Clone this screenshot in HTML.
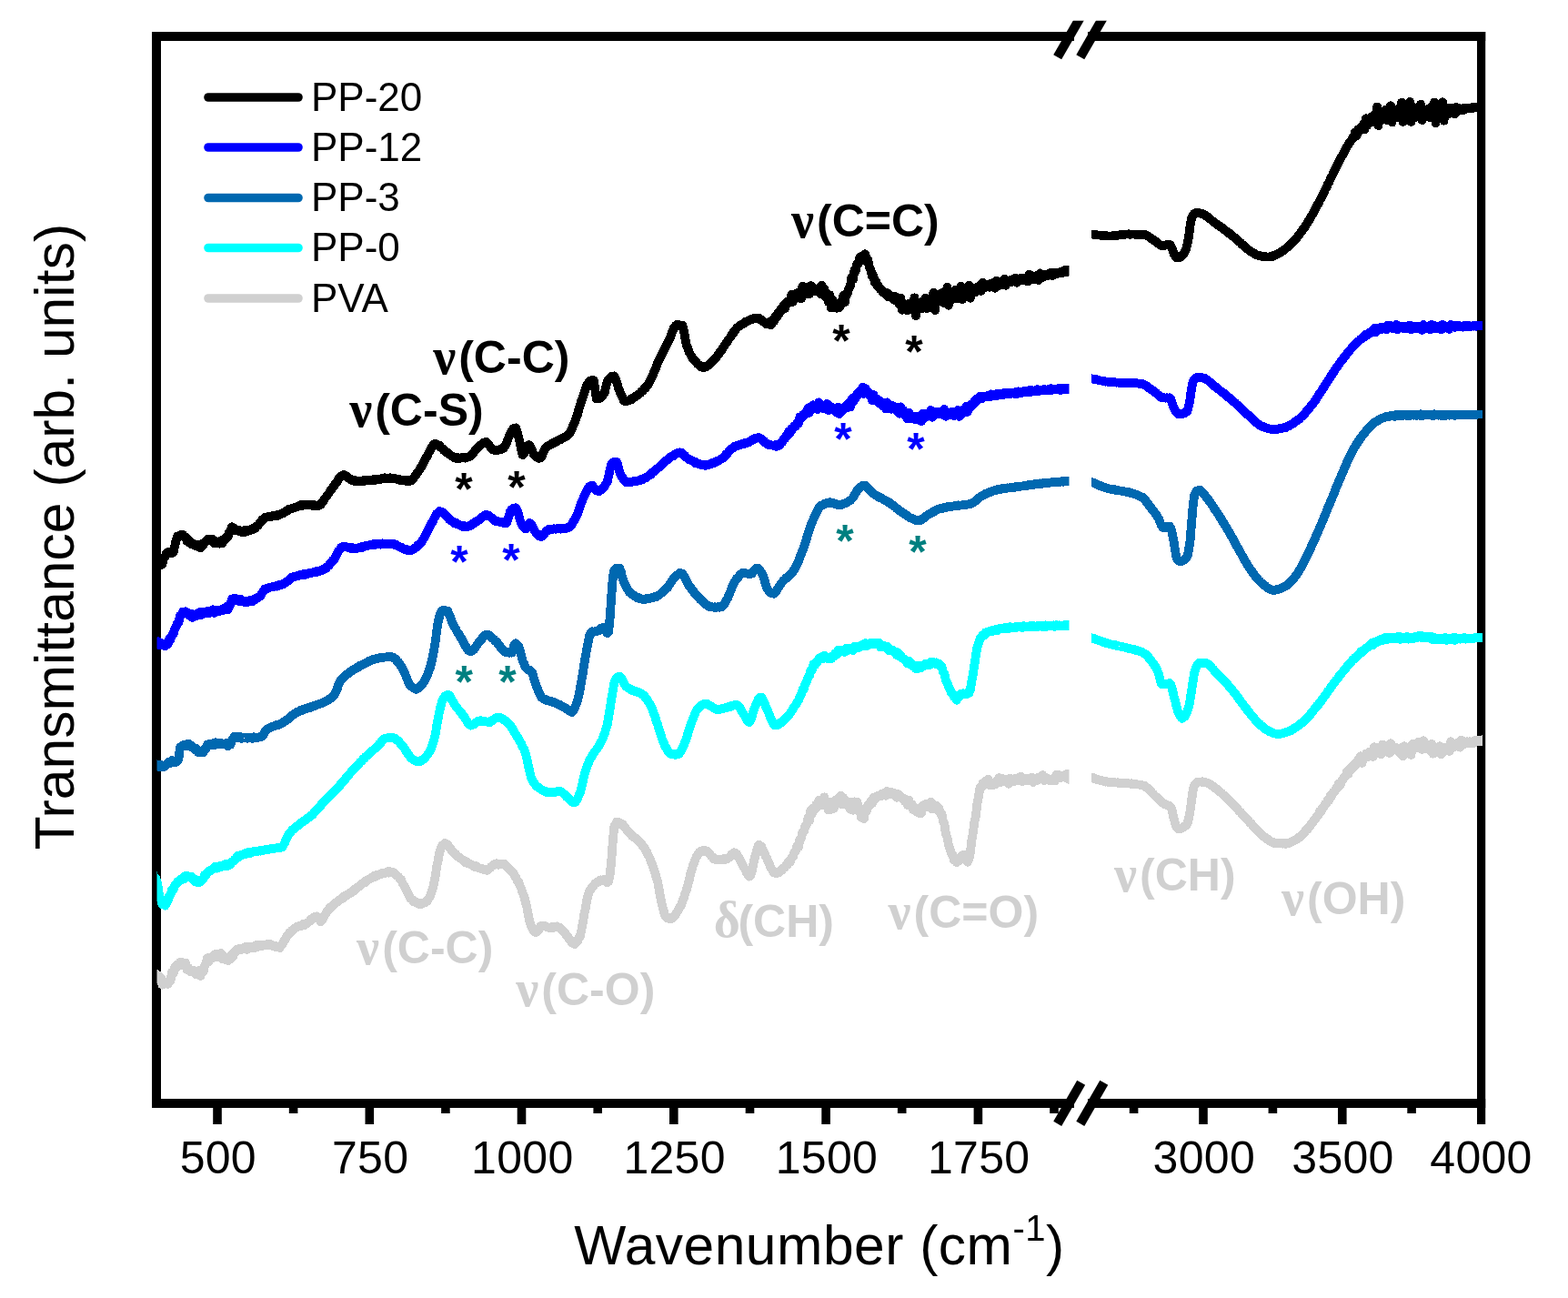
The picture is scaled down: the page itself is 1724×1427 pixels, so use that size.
<!DOCTYPE html>
<html lang="en">
<head>
<meta charset="utf-8">
<title>FTIR spectra</title>
<style>
html,body{margin:0;padding:0;background:#fff;}
body{width:1724px;height:1427px;overflow:hidden;}
svg{display:block;}
text{font-family:"Liberation Sans",sans-serif;fill:#000;}
.tick{font-size:50px;text-anchor:middle;letter-spacing:0.3px;}
.leg{font-size:44px;}
.ann{font-size:50px;font-weight:bold;text-anchor:start;}
.nu{font-family:"Liberation Serif",serif;font-weight:bold;font-size:56px;}
.star{font-size:50px;font-weight:bold;text-anchor:middle;}
.axt{font-size:60.5px;text-anchor:middle;letter-spacing:0.5px;}
.ayt{font-size:60.5px;text-anchor:middle;letter-spacing:0.05px;}
.c{fill:none;stroke-width:9.8;stroke-linejoin:round;stroke-linecap:butt;shape-rendering:crispEdges;}
</style>
</head>
<body>
<svg width="1724" height="1427" viewBox="0 0 1724 1427">
<rect x="0" y="0" width="1724" height="1427" fill="#fff"/>
<g stroke="#000" stroke-width="10" fill="none" stroke-linecap="butt" stroke-linejoin="miter">
<path d="M1181,40 H172 V1213 H1181"/>
<path d="M1196,40 H1633.2"/>
<path d="M1628.6,35 V1236" stroke-width="9.2"/>
<path d="M1196,1213 H1633.2"/>
</g>
<g stroke="#000" stroke-width="9.6">
<path d="M239.0,1213 V1236"/>
<path d="M406.3,1213 V1236"/>
<path d="M573.5,1213 V1236"/>
<path d="M740.8,1213 V1236"/>
<path d="M908.1,1213 V1236"/>
<path d="M1075.4,1213 V1236"/>
<path d="M322.6,1213 V1224"/>
<path d="M489.9,1213 V1224"/>
<path d="M657.2,1213 V1224"/>
<path d="M824.5,1213 V1224"/>
<path d="M991.7,1213 V1224"/>
<path d="M1159.0,1213 V1224"/>
<path d="M1323.0,1213 V1236"/>
<path d="M1475.8,1213 V1236"/>
<path d="M1246.6,1213 V1224"/>
<path d="M1399.4,1213 V1224"/>
<path d="M1552.1,1213 V1224"/>
</g>
<clipPath id="clipL"><rect x="172.5" y="0" width="1003" height="1427"/></clipPath>
<clipPath id="clipR"><rect x="1200" y="0" width="430" height="1427"/></clipPath>
<path class="c" clip-path="url(#clipL)" stroke="#d0d0d0" d="M168.0,1070.0 169.5,1072.3 171.0,1070.4 172.5,1073.1 174.0,1072.3 175.5,1076.9 177.0,1075.2 178.5,1082.7 180.0,1078.7 181.5,1081.7 183.0,1080.3 184.5,1082.0 186.0,1079.7 187.5,1078.3 189.0,1068.7 190.5,1070.6 192.0,1063.6 193.5,1064.4 195.0,1060.2 196.5,1062.0 198.0,1057.9 199.5,1060.0 201.0,1058.2 202.5,1061.1 204.0,1058.6 205.5,1066.0 207.0,1063.8 208.5,1067.7 210.0,1066.3 211.5,1068.7 213.0,1066.8 214.5,1070.7 216.0,1068.6 217.5,1071.3 219.0,1067.0 220.5,1073.0 222.0,1068.6 223.5,1068.5 225.0,1061.7 226.5,1059.7 228.0,1053.2 229.5,1057.4 231.0,1052.6 232.5,1053.7 234.0,1050.9 235.5,1052.7 237.0,1048.8 238.5,1051.9 240.0,1048.8 241.5,1051.2 243.0,1048.0 244.5,1054.5 246.0,1051.3 247.5,1054.8 249.0,1053.0 250.5,1056.1 252.0,1053.7 253.5,1054.4 255.0,1048.9 256.5,1051.1 258.0,1046.1 259.5,1045.8 261.0,1043.5 262.5,1044.6 264.0,1042.5 265.5,1043.9 267.0,1042.5 268.5,1043.6 270.1,1040.6 271.6,1044.0 273.1,1041.0 274.6,1042.6 276.1,1040.6 277.6,1041.9 279.1,1040.5 280.6,1041.9 282.1,1039.1 283.6,1040.8 285.1,1039.2 286.6,1040.1 288.1,1038.7 289.6,1039.6 291.1,1038.6 292.6,1039.3 294.1,1038.2 295.6,1039.6 297.1,1038.0 298.6,1039.6 300.1,1039.2 301.6,1040.6 303.1,1040.2 304.6,1041.4 306.1,1040.9 307.6,1042.1 309.1,1039.5 310.6,1038.4 312.1,1034.9 313.6,1032.7 315.1,1029.4 316.6,1028.4 318.1,1025.4 319.6,1025.6 321.1,1022.7 322.6,1022.0 324.1,1020.4 325.6,1019.9 327.1,1018.5 328.6,1018.6 330.1,1017.6 331.6,1017.8 333.1,1016.1 334.6,1017.0 336.1,1015.2 337.6,1015.2 339.1,1013.7 340.6,1012.8 342.1,1010.1 343.6,1010.3 345.1,1008.1 346.6,1007.8 348.1,1007.4 349.6,1009.6 351.1,1010.8 352.6,1013.2 354.1,1011.2 355.6,1009.4 357.1,1006.1 358.6,1003.8 360.1,1000.9 361.6,999.8 363.1,997.1 364.6,997.3 366.1,995.0 367.6,994.3 369.1,992.2 370.6,991.6 372.1,989.9 373.6,989.6 375.1,987.8 376.6,987.8 378.1,985.3 379.6,985.5 381.1,984.0 382.6,983.6 384.1,981.8 385.6,981.7 387.1,979.8 388.6,979.9 390.1,977.3 391.6,977.1 393.1,975.3 394.6,974.8 396.1,973.1 397.6,972.5 399.1,970.7 400.6,970.7 402.1,968.2 403.6,968.3 405.1,966.9 406.6,966.6 408.1,965.0 409.6,965.0 411.1,963.1 412.6,963.8 414.1,962.0 415.6,962.3 417.1,961.2 418.6,961.3 420.1,960.1 421.6,960.3 423.1,959.5 424.6,959.7 426.1,958.3 427.6,959.5 429.1,958.3 430.6,959.1 432.1,958.8 433.6,960.5 435.1,961.1 436.6,962.8 438.1,963.9 439.6,966.1 441.1,966.9 442.6,971.1 444.1,973.2 445.6,976.6 447.1,979.1 448.6,982.5 450.1,984.7 451.6,987.9 453.1,989.0 454.6,991.3 456.1,990.8 457.6,992.7 459.1,992.9 460.6,993.9 462.1,993.3 463.6,993.9 465.1,992.8 466.6,992.7 468.1,990.8 469.6,991.0 471.1,988.2 472.7,986.0 474.2,981.3 475.7,977.2 477.2,970.9 478.7,963.5 480.2,952.8 481.7,945.9 483.2,937.4 484.7,932.3 486.2,929.6 487.7,928.6 489.2,926.9 490.7,928.4 492.2,928.6 493.7,931.1 495.2,932.8 496.7,935.7 498.2,936.5 499.7,938.5 501.2,938.9 502.7,941.5 504.2,942.0 505.7,943.6 507.2,944.1 508.7,945.8 510.2,945.9 511.7,948.0 513.2,947.3 514.7,949.3 516.2,949.4 517.7,950.8 519.2,950.9 520.7,952.5 522.2,951.7 523.7,953.2 525.2,953.2 526.7,954.3 528.2,954.6 529.7,955.5 531.2,955.3 532.7,956.4 534.2,955.5 535.7,956.8 537.2,955.3 538.7,954.5 540.2,952.6 541.7,951.9 543.2,950.1 544.7,950.2 546.2,949.3 547.7,950.7 549.2,949.8 550.7,950.2 552.2,949.7 553.7,950.3 555.2,950.1 556.7,952.6 558.2,953.1 559.7,955.2 561.2,956.3 562.7,958.5 564.2,959.7 565.7,962.6 567.2,964.6 568.7,968.2 570.2,969.7 571.7,973.9 573.2,976.9 574.7,981.8 576.2,985.4 577.7,991.4 579.2,996.5 580.7,1005.4 582.2,1012.2 583.7,1017.6 585.2,1020.3 586.7,1023.5 588.2,1024.7 589.7,1024.9 591.2,1022.8 592.7,1021.7 594.2,1018.2 595.7,1018.0 597.2,1017.4 598.7,1018.1 600.2,1018.4 601.7,1019.6 603.2,1019.4 604.7,1020.2 606.2,1019.3 607.7,1020.2 609.2,1018.9 610.7,1019.3 612.2,1018.4 613.7,1019.2 615.2,1019.5 616.7,1021.8 618.2,1022.0 619.7,1024.7 621.2,1025.7 622.7,1028.1 624.2,1029.3 625.7,1032.5 627.2,1033.5 628.7,1036.3 630.2,1037.0 631.7,1037.9 633.2,1036.2 634.7,1035.5 636.2,1031.7 637.7,1029.7 639.2,1023.2 640.7,1015.3 642.2,1006.0 643.7,998.8 645.2,989.5 646.7,984.1 648.2,979.4 649.7,977.5 651.2,974.8 652.7,973.5 654.2,971.5 655.7,970.9 657.2,969.4 658.7,969.3 660.2,967.4 661.7,967.9 663.2,967.2 664.7,968.5 666.2,968.8 667.7,970.2 669.2,969.1 670.7,960.8 672.2,947.1 673.8,924.4 675.3,908.7 676.8,905.9 678.3,903.5 679.8,904.2 681.3,904.2 682.8,906.2 684.3,906.0 685.8,908.3 687.3,909.5 688.8,912.0 690.3,913.5 691.8,915.6 693.3,916.3 694.8,919.1 696.3,919.3 697.8,921.2 699.3,921.8 700.8,923.5 702.3,924.3 703.8,926.4 705.3,927.6 706.8,930.2 708.3,931.4 709.8,935.1 711.3,936.9 712.8,940.4 714.3,943.0 715.8,947.1 717.3,950.4 718.8,955.1 720.3,959.4 721.8,965.5 723.3,970.1 724.8,978.9 726.3,986.6 727.8,994.0 729.3,999.8 730.8,1005.8 732.3,1008.4 733.8,1009.5 735.3,1009.2 736.8,1010.5 738.3,1009.6 739.8,1009.3 741.3,1007.2 742.8,1005.8 744.3,1002.8 745.8,1000.7 747.3,997.3 748.8,995.6 750.3,991.1 751.8,987.4 753.3,982.5 754.8,978.3 756.3,972.9 757.8,967.5 759.3,960.5 760.8,955.9 762.3,950.3 763.8,946.9 765.3,942.7 766.8,940.2 768.3,937.5 769.8,937.1 771.3,935.4 772.8,936.0 774.3,934.7 775.8,935.5 777.3,935.6 778.8,937.4 780.3,938.5 781.8,941.0 783.3,942.2 784.8,944.5 786.3,944.1 787.8,945.3 789.3,944.6 790.8,945.2 792.3,944.5 793.8,944.8 795.3,944.2 796.8,944.9 798.3,943.5 799.8,944.0 801.3,942.8 802.8,941.9 804.3,939.4 805.8,938.4 807.3,937.3 808.8,938.1 810.3,938.9 811.8,942.4 813.3,944.4 814.8,947.8 816.3,950.2 817.8,953.4 819.3,955.6 820.8,959.4 822.3,961.7 823.8,963.7 825.3,962.3 826.8,958.0 828.3,949.6 829.8,943.2 831.3,937.7 832.8,932.7 834.3,928.6 835.8,929.7 837.3,930.9 838.8,934.4 840.3,937.5 841.8,941.3 843.3,943.8 844.8,947.7 846.3,950.6 847.8,954.8 849.3,956.6 850.8,959.4 852.3,959.8 853.8,960.0 855.3,959.0 856.8,959.1 858.3,956.9 859.8,956.5 861.3,954.5 862.8,953.6 864.3,951.4 865.8,951.0 867.3,946.6 868.8,947.6 870.3,942.6 871.8,942.2 873.3,937.4 874.8,936.0 876.4,929.7 877.9,931.4 879.4,922.8 880.9,921.5 882.4,914.5 883.9,914.1 885.4,907.6 886.9,906.9 888.4,899.3 889.9,902.5 891.4,890.6 892.9,894.6 894.4,888.1 895.9,889.7 897.4,884.4 898.9,887.2 900.4,879.5 901.9,884.5 903.4,879.0 904.9,885.4 906.4,876.3 907.9,885.0 909.4,882.9 910.9,890.5 912.4,886.1 913.9,889.8 915.4,881.3 916.9,888.9 918.4,879.8 919.9,883.7 921.4,877.7 922.9,881.4 924.4,874.5 925.9,884.3 927.4,877.1 928.9,882.9 930.4,880.4 931.9,886.0 933.4,884.0 934.9,889.7 936.4,881.5 937.9,890.8 939.4,881.3 940.9,884.8 942.4,881.5 943.9,887.0 945.4,890.3 946.9,898.8 948.4,891.1 949.9,900.0 951.4,890.3 952.9,891.4 954.4,884.8 955.9,885.5 957.4,881.3 958.9,883.3 960.4,876.8 961.9,878.8 963.4,875.4 964.9,876.3 966.4,874.4 967.9,875.5 969.4,872.6 970.9,873.7 972.4,871.9 973.9,874.8 975.4,869.9 976.9,873.2 978.4,871.1 979.9,873.4 981.4,871.3 982.9,873.8 984.4,872.4 985.9,876.7 987.4,872.9 988.9,876.5 990.4,875.3 991.9,877.9 993.4,877.3 994.9,881.3 996.4,879.1 997.9,885.2 999.4,879.7 1000.9,885.8 1002.4,884.1 1003.9,890.1 1005.4,887.8 1006.9,891.9 1008.4,890.0 1009.9,893.8 1011.4,888.3 1012.9,894.1 1014.4,885.5 1015.9,887.9 1017.4,884.1 1018.9,887.2 1020.4,883.9 1021.9,886.3 1023.4,881.6 1024.9,889.5 1026.4,884.6 1027.9,888.2 1029.4,885.8 1030.9,890.7 1032.4,888.6 1033.9,894.3 1035.4,894.6 1036.9,902.7 1038.4,905.4 1039.9,917.0 1041.4,920.4 1042.9,928.6 1044.4,932.6 1045.9,937.9 1047.4,939.9 1048.9,945.7 1050.4,944.3 1051.9,948.2 1053.4,946.3 1054.9,946.1 1056.4,941.6 1057.9,940.9 1059.4,939.4 1060.9,942.9 1062.4,942.3 1063.9,947.7 1065.4,944.5 1066.9,937.2 1068.4,923.8 1069.9,915.2 1071.4,903.7 1072.9,896.8 1074.4,883.6 1075.9,875.6 1077.4,866.3 1079.0,866.0 1080.5,861.0 1082.0,861.7 1083.5,858.4 1085.0,860.3 1086.5,856.6 1088.0,863.3 1089.5,860.3 1091.0,863.5 1092.5,861.2 1094.0,862.7 1095.5,858.7 1097.0,859.7 1098.5,855.0 1100.0,860.1 1101.5,855.9 1103.0,858.9 1104.5,856.5 1106.0,859.4 1107.5,857.0 1109.0,861.7 1110.5,855.7 1112.0,859.7 1113.5,857.4 1115.0,859.3 1116.5,855.7 1118.0,857.6 1119.5,855.3 1121.0,858.0 1122.5,853.7 1124.0,859.2 1125.5,855.6 1127.0,857.9 1128.5,855.5 1130.0,858.5 1131.5,856.0 1133.0,858.4 1134.5,854.7 1136.0,860.0 1137.5,855.8 1139.0,858.3 1140.5,855.1 1142.0,857.3 1143.5,854.1 1145.0,856.4 1146.5,852.2 1148.0,858.0 1149.5,854.6 1151.0,857.0 1152.5,856.2 1154.0,858.2 1155.5,856.9 1157.0,858.5 1158.5,855.7 1160.0,858.6 1161.5,851.7 1163.0,855.2 1164.5,852.1 1166.0,854.9 1167.5,852.7 1169.0,854.5 1170.5,852.1 1172.0,855.3 1173.5,850.9 1175.0,856.8 1176.5,852.8 1178.0,855.0 1179.5,853.8"/>
<path class="c" clip-path="url(#clipR)" stroke="#d0d0d0" d="M1196.0,854.0 1197.5,854.5 1199.0,854.6 1200.5,855.4 1202.0,855.1 1203.5,856.3 1205.0,856.3 1206.5,857.1 1208.0,857.2 1209.5,857.8 1211.0,857.9 1212.5,858.7 1214.0,858.7 1215.5,859.7 1217.0,859.2 1218.5,859.9 1220.0,859.9 1221.5,860.4 1223.0,860.1 1224.5,860.4 1226.0,860.2 1227.5,860.6 1229.0,860.3 1230.5,861.1 1232.0,860.5 1233.5,860.9 1235.0,860.7 1236.5,861.2 1238.0,860.9 1239.5,861.4 1241.0,861.2 1242.5,861.7 1244.0,861.2 1245.5,862.2 1247.0,861.7 1248.5,862.2 1250.0,862.2 1251.5,862.6 1253.0,862.5 1254.5,863.2 1256.0,863.2 1257.5,863.9 1259.0,863.9 1260.5,865.7 1262.0,866.5 1263.5,868.3 1265.0,869.6 1266.5,871.6 1268.0,872.8 1269.5,874.6 1271.0,875.8 1272.5,877.5 1274.0,878.4 1275.5,880.5 1277.0,881.3 1278.5,882.9 1280.0,883.7 1281.5,884.7 1283.0,884.9 1284.5,885.9 1286.0,886.0 1287.5,887.7 1289.0,892.1 1290.5,899.8 1292.0,904.7 1293.5,909.3 1295.0,911.0 1296.5,911.2 1298.0,910.7 1299.5,910.7 1301.0,909.1 1302.5,908.6 1304.0,907.1 1305.5,905.6 1307.0,899.4 1308.5,891.6 1310.0,880.9 1311.5,869.6 1313.0,863.7 1314.5,862.0 1316.0,859.9 1317.5,859.6 1319.0,859.4 1320.5,859.7 1322.0,859.3 1323.5,860.2 1325.0,859.8 1326.5,860.4 1328.0,860.8 1329.5,861.8 1331.0,862.4 1332.5,863.8 1334.0,864.6 1335.5,866.1 1337.0,866.7 1338.5,868.6 1340.0,869.2 1341.5,870.9 1343.0,871.9 1344.5,873.6 1346.0,874.6 1347.5,876.5 1349.0,877.6 1350.5,879.4 1352.0,880.4 1353.5,882.6 1355.0,883.6 1356.5,885.4 1358.0,886.7 1359.5,888.5 1361.0,889.8 1362.5,891.7 1364.0,892.8 1365.5,895.2 1367.0,896.3 1368.5,898.3 1370.0,899.5 1371.5,901.4 1373.0,902.8 1374.5,904.7 1376.0,905.7 1377.5,908.0 1379.0,909.1 1380.5,911.1 1382.0,912.4 1383.5,914.3 1385.0,915.5 1386.5,917.3 1388.0,918.0 1389.5,920.0 1391.0,920.5 1392.5,922.1 1394.0,922.7 1395.5,924.1 1397.0,924.8 1398.5,925.9 1400.0,926.1 1401.5,927.2 1403.0,926.9 1404.5,927.4 1406.0,927.2 1407.5,927.5 1409.0,927.3 1410.5,927.7 1412.0,927.1 1413.5,927.9 1415.0,927.2 1416.5,927.1 1418.0,926.2 1419.5,925.9 1421.0,924.9 1422.5,924.4 1424.0,923.3 1425.5,922.8 1427.0,921.1 1428.5,920.8 1430.0,919.2 1431.5,918.2 1433.0,916.2 1434.5,915.0 1436.0,912.4 1437.5,912.0 1439.0,909.1 1440.5,908.0 1442.0,905.3 1443.5,904.1 1445.0,901.3 1446.5,900.2 1448.0,897.1 1449.5,896.3 1451.0,891.9 1452.5,892.5 1454.0,888.0 1455.5,887.3 1457.0,883.8 1458.5,883.0 1460.0,879.2 1461.5,879.5 1463.0,874.3 1464.5,874.6 1466.0,870.7 1467.5,870.5 1469.0,866.6 1470.5,866.3 1472.0,861.3 1473.5,863.1 1475.0,858.5 1476.5,857.4 1478.0,854.2 1479.5,853.5 1481.0,848.1 1482.5,851.0 1484.0,844.9 1485.5,846.0 1487.0,842.3 1488.5,843.4 1490.0,839.0 1491.5,840.2 1493.0,835.4 1494.5,838.2 1496.0,831.2 1497.5,839.0 1499.0,832.0 1500.5,833.4 1502.0,828.4 1503.5,832.4 1505.0,826.9 1506.5,829.7 1508.0,826.4 1509.5,831.9 1511.0,821.2 1512.5,827.2 1514.0,822.6 1515.5,827.9 1517.0,821.7 1518.5,829.2 1520.0,818.6 1521.5,825.4 1523.0,820.4 1524.5,824.6 1526.0,820.3 1527.5,827.8 1529.0,817.2 1530.5,825.4 1532.0,821.5 1533.5,824.2 1535.0,821.8 1536.5,825.1 1538.0,822.8 1539.5,828.1 1541.0,821.8 1542.5,831.2 1544.0,820.2 1545.5,827.7 1547.0,824.9 1548.5,828.2 1550.0,823.4 1551.5,829.8 1553.0,818.0 1554.5,823.7 1556.0,819.1 1557.5,821.9 1559.0,816.1 1560.5,820.8 1562.0,817.6 1563.5,824.0 1565.0,814.3 1566.5,822.6 1568.0,818.3 1569.5,823.7 1571.0,820.6 1572.5,825.4 1574.0,818.0 1575.5,828.7 1577.0,821.5 1578.5,826.5 1580.0,822.2 1581.5,827.0 1583.0,820.3 1584.5,829.6 1586.0,822.2 1587.5,826.7 1589.0,821.9 1590.5,824.0 1592.0,820.9 1593.5,826.0 1595.0,815.3 1596.5,822.5 1598.0,817.8 1599.5,820.8 1601.0,817.3 1602.5,820.6 1604.0,815.9 1605.5,821.7 1607.0,813.6 1608.5,818.9 1610.0,815.4 1611.5,817.4 1613.0,815.2 1614.5,816.7 1616.0,815.4 1617.5,816.9 1619.0,815.1 1620.5,817.0 1622.0,813.7 1623.5,815.4 1625.0,814.1 1626.5,814.9 1628.0,813.8 1629.5,814.9 1631.0,813.1 1632.5,814.0 1634.0,813.4"/>
<path class="c" clip-path="url(#clipL)" stroke="#00ffff" d="M168.0,960.0 169.5,963.8 171.0,965.1 172.5,969.4 174.0,976.8 175.5,987.2 177.0,988.9 178.5,994.2 180.0,994.0 181.5,995.7 183.0,992.8 184.5,990.4 186.0,985.4 187.5,983.3 189.0,978.3 190.5,978.1 192.0,973.6 193.5,972.4 195.0,969.6 196.5,969.6 198.0,967.1 199.5,967.4 201.0,965.0 202.5,966.4 204.0,962.8 205.5,964.6 207.0,963.3 208.5,964.2 210.0,963.7 211.5,966.2 213.0,965.9 214.5,969.5 216.0,967.7 217.5,970.4 219.0,969.5 220.5,969.7 222.0,966.8 223.5,966.1 225.0,961.7 226.5,962.4 228.0,958.9 229.5,958.7 231.0,956.8 232.5,956.7 234.0,955.0 235.5,955.0 237.0,952.6 238.5,954.7 240.0,952.5 241.5,953.4 243.0,951.5 244.5,952.6 246.0,950.9 247.5,951.9 249.0,949.6 250.5,952.0 252.0,949.7 253.5,950.2 255.0,947.6 256.5,947.1 258.0,944.8 259.5,944.1 261.0,941.1 262.5,942.4 264.0,940.2 265.5,940.2 267.0,939.2 268.5,939.3 270.1,938.1 271.6,938.6 273.1,937.0 274.6,938.2 276.1,936.7 277.6,937.0 279.1,936.1 280.6,936.5 282.1,935.6 283.6,935.8 285.1,935.2 286.6,935.6 288.1,934.4 289.6,934.8 291.1,934.3 292.6,934.4 294.1,933.8 295.6,933.9 297.1,933.3 298.6,933.6 300.1,932.6 301.6,932.9 303.1,932.4 304.6,932.6 306.1,932.0 307.6,932.0 309.1,931.4 310.6,931.3 312.1,928.3 313.6,925.6 315.1,921.5 316.6,918.7 318.1,916.1 319.6,915.0 321.1,912.6 322.6,911.8 324.1,910.2 325.6,909.3 327.1,907.7 328.6,907.0 330.1,905.1 331.6,904.5 333.1,903.1 334.6,902.5 336.1,901.0 337.6,900.3 339.1,898.8 340.6,898.0 342.1,896.2 343.6,895.7 345.1,893.6 346.6,892.4 348.1,890.3 349.6,889.0 351.1,887.0 352.6,885.6 354.1,883.5 355.6,882.2 357.1,880.1 358.6,879.3 360.1,877.3 361.6,876.0 363.1,874.4 364.6,873.2 366.1,871.3 367.6,870.2 369.1,868.1 370.6,867.2 372.1,865.0 373.6,863.6 375.1,861.5 376.6,860.0 378.1,858.0 379.6,856.7 381.1,854.1 382.6,852.9 384.1,850.9 385.6,849.4 387.1,847.5 388.6,846.3 390.1,844.0 391.6,842.9 393.1,840.9 394.6,839.7 396.1,837.8 397.6,836.8 399.1,834.5 400.6,833.6 402.1,831.8 403.6,830.7 405.1,829.1 406.6,828.3 408.1,826.2 409.6,825.4 411.1,823.9 412.6,822.8 414.1,821.2 415.6,820.3 417.1,817.8 418.6,816.6 420.1,814.4 421.6,813.2 423.1,811.7 424.6,811.5 426.1,811.2 427.6,811.6 429.1,810.8 430.6,811.4 432.1,811.2 433.6,811.5 435.1,812.0 436.6,813.8 438.1,814.6 439.6,816.8 441.1,818.4 442.6,820.3 444.1,821.9 445.6,824.5 447.1,826.6 448.6,829.3 450.1,830.9 451.6,833.4 453.1,834.1 454.6,835.4 456.1,836.1 457.6,837.1 459.1,837.2 460.6,837.6 462.1,836.9 463.6,836.3 465.1,834.7 466.6,834.1 468.1,831.9 469.6,830.5 471.1,828.2 472.7,825.8 474.2,822.2 475.7,818.5 477.2,813.6 478.7,807.5 480.2,798.0 481.7,789.6 483.2,782.0 484.7,775.9 486.2,770.2 487.7,767.4 489.2,765.5 490.7,764.5 492.2,763.7 493.7,764.4 495.2,765.8 496.7,769.2 498.2,771.7 499.7,774.6 501.2,776.5 502.7,778.6 504.2,780.2 505.7,782.4 507.2,783.8 508.7,786.2 510.2,787.3 511.7,790.2 513.2,792.5 514.7,795.4 516.2,796.8 517.7,797.6 519.2,796.7 520.7,796.7 522.2,795.0 523.7,794.3 525.2,793.0 526.7,792.7 528.2,792.2 529.7,793.1 531.2,792.7 532.7,793.3 534.2,793.3 535.7,793.7 537.2,793.6 538.7,794.0 540.2,792.5 541.7,792.1 543.2,790.6 544.7,789.9 546.2,788.8 547.7,788.9 549.2,788.6 550.7,789.8 552.2,789.9 553.7,791.3 555.2,791.9 556.7,793.3 558.2,794.2 559.7,796.0 561.2,797.6 562.7,800.3 564.2,802.1 565.7,805.4 567.2,807.4 568.7,810.1 570.2,812.3 571.7,815.2 573.2,817.7 574.7,821.2 576.2,823.8 577.7,828.2 579.2,833.5 580.7,840.9 582.2,847.7 583.7,854.1 585.2,857.7 586.7,860.5 588.2,862.1 589.7,864.4 591.2,865.0 592.7,866.5 594.2,867.2 595.7,868.3 597.2,868.9 598.7,869.9 600.2,870.0 601.7,871.2 603.2,870.9 604.7,871.4 606.2,871.1 607.7,871.1 609.2,870.7 610.7,870.7 612.2,870.1 613.7,870.4 615.2,869.6 616.7,870.6 618.2,871.2 619.7,872.7 621.2,873.8 622.7,875.9 624.2,876.5 625.7,878.3 627.2,879.5 628.7,881.3 630.2,882.1 631.7,882.5 633.2,881.0 634.7,879.0 636.2,875.0 637.7,872.2 639.2,866.6 640.7,860.1 642.2,853.0 643.7,847.7 645.2,843.1 646.7,839.8 648.2,835.7 649.7,833.2 651.2,830.1 652.7,828.2 654.2,825.9 655.7,824.3 657.2,822.0 658.7,819.9 660.2,816.7 661.7,814.3 663.2,810.4 664.7,806.7 666.2,801.8 667.7,796.6 669.2,788.2 670.7,779.0 672.2,768.8 673.8,759.8 675.3,750.5 676.8,746.9 678.3,745.0 679.8,744.3 681.3,743.6 682.8,745.3 684.3,747.4 685.8,751.1 687.3,753.4 688.8,755.1 690.3,755.9 691.8,757.1 693.3,757.7 694.8,759.0 696.3,759.0 697.8,760.0 699.3,760.1 700.8,760.9 702.3,761.1 703.8,762.0 705.3,762.4 706.8,764.0 708.3,764.8 709.8,767.4 711.3,768.9 712.8,771.4 714.3,773.6 715.8,776.7 717.3,779.8 718.8,784.5 720.3,788.1 721.8,793.1 723.3,797.2 724.8,802.3 726.3,806.9 727.8,812.0 729.3,815.5 730.8,819.5 732.3,822.0 733.8,825.0 735.3,826.9 736.8,828.6 738.3,828.8 739.8,829.3 741.3,829.1 742.8,829.8 744.3,829.1 745.8,829.5 747.3,827.7 748.8,825.5 750.3,822.2 751.8,819.2 753.3,815.3 754.8,811.8 756.3,806.4 757.8,801.6 759.3,796.7 760.8,793.1 762.3,789.0 763.8,785.8 765.3,781.7 766.8,779.7 768.3,777.8 769.8,776.7 771.3,775.1 772.8,774.5 774.3,773.7 775.8,774.2 777.3,773.8 778.8,774.9 780.3,775.3 781.8,776.6 783.3,777.3 784.8,778.5 786.3,778.9 787.8,779.8 789.3,779.8 790.8,780.4 792.3,779.4 793.8,779.5 795.3,778.9 796.8,778.6 798.3,777.8 799.8,777.7 801.3,776.9 802.8,777.1 804.3,775.8 805.8,775.8 807.3,775.1 808.8,775.2 810.3,774.9 811.8,776.4 813.3,777.6 814.8,780.8 816.3,783.1 817.8,785.6 819.3,787.8 820.8,791.0 822.3,792.5 823.8,794.2 825.3,791.7 826.8,787.6 828.3,782.2 829.8,778.0 831.3,774.3 832.8,771.0 834.3,767.6 835.8,766.7 837.3,766.7 838.8,769.3 840.3,772.4 841.8,776.3 843.3,779.1 844.8,783.0 846.3,786.7 847.8,790.8 849.3,793.7 850.8,796.8 852.3,797.3 853.8,797.4 855.3,796.6 856.8,796.0 858.3,794.4 859.8,794.0 861.3,792.1 862.8,791.0 864.3,789.2 865.8,788.1 867.3,785.9 868.8,784.2 870.3,781.8 871.8,779.8 873.3,776.6 874.8,775.3 876.4,771.8 877.9,769.9 879.4,765.8 880.9,763.7 882.4,758.2 883.9,757.4 885.4,751.9 886.9,749.8 888.4,744.5 889.9,743.0 891.4,737.1 892.9,736.8 894.4,730.2 895.9,731.3 897.4,727.6 898.9,727.5 900.4,723.7 901.9,724.4 903.4,722.3 904.9,724.4 906.4,720.6 907.9,723.6 909.4,722.4 910.9,724.5 912.4,722.8 913.9,724.4 915.4,721.4 916.9,721.6 918.4,718.3 919.9,719.7 921.4,714.7 922.9,717.2 924.4,715.3 925.9,716.3 927.4,714.3 928.9,716.9 930.4,712.8 931.9,715.2 933.4,713.2 934.9,714.4 936.4,712.9 937.9,715.0 939.4,710.6 940.9,712.6 942.4,710.9 943.9,712.2 945.4,710.1 946.9,710.7 948.4,708.9 949.9,710.4 951.4,707.0 952.9,710.4 954.4,707.6 955.9,708.5 957.4,707.0 958.9,708.1 960.4,706.8 961.9,708.6 963.4,706.8 964.9,708.9 966.4,706.8 967.9,711.4 969.4,709.4 970.9,711.4 972.4,710.2 973.9,712.2 975.4,710.6 976.9,715.0 978.4,713.4 979.9,715.5 981.4,715.0 982.9,716.9 984.4,716.3 985.9,720.1 987.4,717.4 988.9,721.4 990.4,720.8 991.9,723.5 993.4,724.0 994.9,726.1 996.4,726.1 997.9,729.5 999.4,726.8 1000.9,730.4 1002.4,729.7 1003.9,732.7 1005.4,731.6 1006.9,735.0 1008.4,731.9 1009.9,734.8 1011.4,733.0 1012.9,734.2 1014.4,731.5 1015.9,732.1 1017.4,729.9 1018.9,731.3 1020.4,729.5 1021.9,731.4 1023.4,727.5 1024.9,729.4 1026.4,728.1 1027.9,729.8 1029.4,728.4 1030.9,730.0 1032.4,729.6 1033.9,732.2 1035.4,732.5 1036.9,738.8 1038.4,740.8 1039.9,748.2 1041.4,750.4 1042.9,755.3 1044.4,757.6 1045.9,761.5 1047.4,762.5 1048.9,766.2 1050.4,766.9 1051.9,769.7 1053.4,767.1 1054.9,766.2 1056.4,762.8 1057.9,762.9 1059.4,762.3 1060.9,762.7 1062.4,762.3 1063.9,762.9 1065.4,762.0 1066.9,758.2 1068.4,748.2 1069.9,740.8 1071.4,730.9 1072.9,721.1 1074.4,711.7 1075.9,707.4 1077.4,702.4 1079.0,700.4 1080.5,698.2 1082.0,698.3 1083.5,695.4 1085.0,696.0 1086.5,694.4 1088.0,694.6 1089.5,693.4 1091.0,693.9 1092.5,692.6 1094.0,692.9 1095.5,691.4 1097.0,693.0 1098.5,691.1 1100.0,691.6 1101.5,690.8 1103.0,691.3 1104.5,690.1 1106.0,690.7 1107.5,689.7 1109.0,691.1 1110.5,689.0 1112.0,690.3 1113.5,689.5 1115.0,690.0 1116.5,689.0 1118.0,689.8 1119.5,689.1 1121.0,689.6 1122.5,688.8 1124.0,690.2 1125.5,688.2 1127.0,689.3 1128.5,688.5 1130.0,689.5 1131.5,688.4 1133.0,689.2 1134.5,687.7 1136.0,689.6 1137.5,688.4 1139.0,689.0 1140.5,688.0 1142.0,688.8 1143.5,688.2 1145.0,688.8 1146.5,687.8 1148.0,689.2 1149.5,687.3 1151.0,688.7 1152.5,687.9 1154.0,688.5 1155.5,687.9 1157.0,688.4 1158.5,687.5 1160.0,688.9 1161.5,687.0 1163.0,688.3 1164.5,687.4 1166.0,688.1 1167.5,687.5 1169.0,688.0 1170.5,687.2 1172.0,688.5 1173.5,686.6 1175.0,688.0 1176.5,687.1 1178.0,687.6 1179.5,687.4"/>
<path class="c" clip-path="url(#clipR)" stroke="#00ffff" d="M1196.0,699.9 1197.5,700.5 1199.0,700.8 1200.5,701.6 1202.0,701.6 1203.5,702.7 1205.0,702.9 1206.5,703.7 1208.0,704.0 1209.5,704.7 1211.0,705.0 1212.5,705.8 1214.0,705.9 1215.5,707.0 1217.0,707.0 1218.5,707.7 1220.0,707.9 1221.5,708.5 1223.0,708.6 1224.5,709.4 1226.0,709.1 1227.5,709.8 1229.0,710.0 1230.5,710.5 1232.0,710.5 1233.5,711.1 1235.0,711.2 1236.5,711.7 1238.0,711.7 1239.5,712.7 1241.0,712.7 1242.5,713.3 1244.0,713.4 1245.5,713.9 1247.0,714.0 1248.5,714.9 1250.0,714.9 1251.5,715.7 1253.0,715.9 1254.5,716.7 1256.0,717.1 1257.5,718.1 1259.0,718.8 1260.5,720.3 1262.0,721.4 1263.5,723.8 1265.0,725.2 1266.5,727.5 1268.0,729.4 1269.5,731.8 1271.0,734.0 1272.5,737.5 1274.0,740.6 1275.5,746.9 1277.0,751.9 1278.5,752.6 1280.0,752.1 1281.5,752.1 1283.0,751.5 1284.5,751.5 1286.0,750.9 1287.5,753.3 1289.0,758.2 1290.5,764.8 1292.0,770.1 1293.5,776.4 1295.0,781.7 1296.5,785.5 1298.0,787.7 1299.5,789.7 1301.0,788.9 1302.5,787.8 1304.0,784.9 1305.5,782.0 1307.0,777.2 1308.5,769.5 1310.0,759.7 1311.5,750.1 1313.0,740.4 1314.5,735.6 1316.0,731.7 1317.5,729.6 1319.0,728.4 1320.5,729.1 1322.0,728.7 1323.5,728.8 1325.0,728.6 1326.5,729.2 1328.0,729.8 1329.5,731.2 1331.0,732.2 1332.5,734.6 1334.0,735.9 1335.5,737.9 1337.0,739.4 1338.5,741.1 1340.0,742.3 1341.5,744.2 1343.0,745.3 1344.5,747.4 1346.0,748.3 1347.5,750.3 1349.0,751.7 1350.5,753.6 1352.0,755.2 1353.5,757.1 1355.0,758.6 1356.5,760.9 1358.0,762.1 1359.5,764.6 1361.0,766.5 1362.5,768.8 1364.0,770.6 1365.5,773.0 1367.0,774.6 1368.5,777.1 1370.0,778.4 1371.5,780.8 1373.0,782.5 1374.5,784.6 1376.0,786.3 1377.5,788.4 1379.0,789.8 1380.5,791.8 1382.0,793.0 1383.5,795.1 1385.0,795.8 1386.5,797.7 1388.0,798.7 1389.5,800.3 1391.0,801.2 1392.5,802.5 1394.0,802.9 1395.5,804.3 1397.0,804.5 1398.5,805.5 1400.0,805.8 1401.5,806.6 1403.0,806.4 1404.5,807.4 1406.0,806.9 1407.5,807.0 1409.0,806.4 1410.5,806.4 1412.0,805.4 1413.5,805.6 1415.0,804.5 1416.5,804.3 1418.0,803.4 1419.5,803.1 1421.0,801.9 1422.5,801.4 1424.0,799.9 1425.5,799.6 1427.0,798.0 1428.5,797.2 1430.0,795.7 1431.5,794.7 1433.0,793.0 1434.5,792.3 1436.0,790.3 1437.5,789.0 1439.0,787.1 1440.5,785.7 1442.0,783.6 1443.5,782.1 1445.0,779.9 1446.5,778.3 1448.0,775.9 1449.5,774.8 1451.0,772.3 1452.5,770.7 1454.0,768.4 1455.5,766.7 1457.0,764.3 1458.5,762.5 1460.0,759.9 1461.5,758.6 1463.0,755.8 1464.5,754.2 1466.0,751.8 1467.5,750.2 1469.0,747.9 1470.5,746.5 1472.0,743.8 1473.5,742.3 1475.0,740.2 1476.5,738.5 1478.0,736.4 1479.5,734.9 1481.0,732.7 1482.5,731.5 1484.0,729.3 1485.5,728.5 1487.0,725.6 1488.5,725.0 1490.0,722.7 1491.5,722.1 1493.0,720.0 1494.5,719.1 1496.0,716.6 1497.5,717.2 1499.0,714.8 1500.5,714.3 1502.0,712.4 1503.5,711.9 1505.0,710.2 1506.5,710.1 1508.0,707.0 1509.5,709.1 1511.0,706.0 1512.5,707.1 1514.0,705.1 1515.5,705.7 1517.0,703.5 1518.5,704.3 1520.0,702.7 1521.5,703.7 1523.0,700.8 1524.5,703.4 1526.0,701.2 1527.5,701.9 1529.0,700.8 1530.5,701.8 1532.0,700.9 1533.5,702.1 1535.0,700.4 1536.5,702.0 1538.0,699.6 1539.5,702.8 1541.0,700.4 1542.5,701.7 1544.0,700.7 1545.5,702.2 1547.0,699.8 1548.5,702.7 1550.0,700.6 1551.5,701.8 1553.0,700.6 1554.5,701.7 1556.0,700.2 1557.5,701.1 1559.0,699.4 1560.5,700.5 1562.0,698.4 1563.5,701.4 1565.0,699.4 1566.5,701.1 1568.0,699.6 1569.5,701.2 1571.0,700.4 1572.5,701.9 1574.0,699.9 1575.5,703.2 1577.0,700.9 1578.5,702.7 1580.0,701.8 1581.5,702.8 1583.0,701.6 1584.5,703.3 1586.0,701.9 1587.5,703.4 1589.0,700.9 1590.5,703.9 1592.0,702.0 1593.5,703.3 1595.0,701.8 1596.5,703.1 1598.0,700.9 1599.5,704.0 1601.0,701.3 1602.5,702.5 1604.0,701.6 1605.5,702.6 1607.0,701.6 1608.5,702.3 1610.0,701.1 1611.5,702.6 1613.0,701.7 1614.5,701.9 1616.0,701.6 1617.5,701.8 1619.0,701.5 1620.5,701.9 1622.0,701.1 1623.5,701.6 1625.0,701.2 1626.5,701.5 1628.0,701.1 1629.5,701.3 1631.0,701.1 1632.5,701.4 1634.0,701.1"/>
<path class="c" clip-path="url(#clipL)" stroke="#0068b0" d="M168.0,840.2 169.5,841.2 171.0,840.0 172.5,841.9 174.0,840.6 175.5,843.4 177.0,840.9 178.5,843.3 180.0,842.0 181.5,842.6 183.0,839.9 184.5,839.6 186.0,837.5 187.5,839.0 189.0,836.0 190.5,837.9 192.0,837.2 193.5,838.0 195.0,836.9 196.5,833.5 198.0,821.6 199.5,821.4 201.0,819.3 202.5,819.8 204.0,818.5 205.5,820.2 207.0,817.5 208.5,819.7 210.0,819.5 211.5,822.0 213.0,822.0 214.5,824.2 216.0,822.9 217.5,826.8 219.0,825.5 220.5,827.5 222.0,827.1 223.5,827.4 225.0,823.0 226.5,822.9 228.0,818.4 229.5,819.1 231.0,817.5 232.5,818.5 234.0,817.2 235.5,819.2 237.0,816.3 238.5,818.0 240.0,817.1 241.5,817.9 243.0,817.0 244.5,818.0 246.0,817.4 247.5,818.5 249.0,817.0 250.5,820.2 252.0,818.2 253.5,818.5 255.0,813.6 256.5,811.6 258.0,809.4 259.5,810.5 261.0,809.6 262.5,811.1 264.0,809.7 265.5,812.0 267.0,810.7 268.5,811.5 270.1,810.8 271.6,811.7 273.1,810.9 274.6,811.5 276.1,810.9 277.6,811.8 279.1,810.3 280.6,811.2 282.1,810.5 283.6,810.7 285.1,810.2 286.6,810.3 288.1,809.5 289.6,807.6 291.1,804.4 292.6,802.8 294.1,801.1 295.6,800.8 297.1,799.7 298.6,799.4 300.1,798.5 301.6,798.3 303.1,797.3 304.6,797.6 306.1,796.6 307.6,796.3 309.1,795.3 310.6,794.9 312.1,793.6 313.6,792.9 315.1,791.2 316.6,790.8 318.1,789.1 319.6,788.2 321.1,786.6 322.6,785.8 324.1,784.4 325.6,783.6 327.1,782.6 328.6,782.2 330.1,781.0 331.6,781.2 333.1,780.1 334.6,779.9 336.1,779.0 337.6,778.9 339.1,778.1 340.6,778.2 342.1,777.0 343.6,776.9 345.1,776.0 346.6,775.8 348.1,774.9 349.6,774.7 351.1,773.8 352.6,773.7 354.1,772.7 355.6,772.6 357.1,771.1 358.6,770.9 360.1,769.7 361.6,769.3 363.1,767.8 364.6,767.0 366.1,765.2 367.6,763.8 369.1,760.8 370.6,757.8 372.1,753.1 373.6,750.0 375.1,747.2 376.6,745.7 378.1,743.9 379.6,743.2 381.1,741.2 382.6,740.7 384.1,739.1 385.6,738.5 387.1,737.1 388.6,736.5 390.1,735.2 391.6,734.6 393.1,733.5 394.6,733.2 396.1,731.6 397.6,731.4 399.1,730.3 400.6,729.8 402.1,728.8 403.6,728.6 405.1,727.0 406.6,726.9 408.1,725.9 409.6,725.6 411.1,724.6 412.6,724.5 414.1,723.7 415.6,723.8 417.1,723.3 418.6,723.5 420.1,722.5 421.6,722.8 423.1,722.4 424.6,722.5 426.1,722.0 427.6,722.2 429.1,721.9 430.6,722.3 432.1,722.5 433.6,724.1 435.1,724.7 436.6,726.8 438.1,728.0 439.6,730.5 441.1,732.6 442.6,735.6 444.1,738.0 445.6,741.7 447.1,744.9 448.6,749.2 450.1,752.1 451.6,754.3 453.1,755.2 454.6,756.6 456.1,756.9 457.6,757.9 459.1,756.9 460.6,756.2 462.1,754.5 463.6,753.0 465.1,750.9 466.6,749.3 468.1,745.7 469.6,742.9 471.1,738.6 472.7,734.7 474.2,728.8 475.7,722.3 477.2,714.2 478.7,705.5 480.2,693.5 481.7,684.0 483.2,677.6 484.7,673.5 486.2,671.2 487.7,671.5 489.2,671.1 490.7,671.4 492.2,671.6 493.7,675.1 495.2,678.4 496.7,683.2 498.2,686.1 499.7,689.3 501.2,691.7 502.7,694.9 504.2,696.7 505.7,699.7 507.2,701.8 508.7,704.7 510.2,707.0 511.7,710.0 513.2,712.2 514.7,714.8 516.2,715.4 517.7,716.4 519.2,715.5 520.7,714.5 522.2,712.3 523.7,710.4 525.2,707.8 526.7,706.1 528.2,704.1 529.7,702.7 531.2,700.0 532.7,698.9 534.2,697.6 535.7,697.7 537.2,697.9 538.7,699.3 540.2,700.3 541.7,701.9 543.2,703.1 544.7,705.1 546.2,705.7 547.7,708.0 549.2,709.8 550.7,712.1 552.2,713.6 553.7,715.8 555.2,716.3 556.7,717.5 558.2,717.3 559.7,717.7 561.2,717.3 562.7,717.6 564.2,713.0 565.7,708.3 567.2,707.4 568.7,709.1 570.2,710.1 571.7,714.8 573.2,720.9 574.7,726.9 576.2,729.8 577.7,733.5 579.2,735.2 580.7,736.6 582.2,736.7 583.7,737.6 585.2,739.7 586.7,744.6 588.2,749.5 589.7,754.7 591.2,757.6 592.7,761.8 594.2,764.6 595.7,767.1 597.2,768.0 598.7,769.0 600.2,769.1 601.7,770.4 603.2,770.3 604.7,771.0 606.2,771.2 607.7,771.8 609.2,772.0 610.7,773.0 612.2,773.4 613.7,774.6 615.2,774.6 616.7,775.9 618.2,776.5 619.7,777.5 621.2,778.0 622.7,779.5 624.2,780.3 625.7,781.7 627.2,781.8 628.7,782.9 630.2,781.4 631.7,779.0 633.2,775.0 634.7,771.0 636.2,765.3 637.7,758.0 639.2,749.1 640.7,741.1 642.2,730.9 643.7,722.1 645.2,713.7 646.7,706.1 648.2,698.9 649.7,695.3 651.2,694.3 652.7,694.8 654.2,694.1 655.7,694.2 657.2,693.7 658.7,693.2 660.2,691.2 661.7,690.3 663.2,690.1 664.7,692.0 666.2,693.6 667.7,696.2 669.2,694.6 670.7,678.8 672.2,656.4 673.8,635.1 675.3,626.8 676.8,625.2 678.3,624.6 679.8,625.4 681.3,624.8 682.8,628.8 684.3,634.9 685.8,639.6 687.3,642.6 688.8,646.1 690.3,648.1 691.8,650.9 693.3,651.6 694.8,653.3 696.3,654.0 697.8,655.4 699.3,655.9 700.8,657.4 702.3,657.2 703.8,658.3 705.3,658.3 706.8,658.9 708.3,658.6 709.8,658.8 711.3,658.0 712.8,658.6 714.3,657.6 715.8,657.6 717.3,656.9 718.8,656.8 720.3,655.8 721.8,656.0 723.3,654.6 724.8,654.1 726.3,652.7 727.8,651.8 729.3,650.3 730.8,649.2 732.3,647.3 733.8,646.4 735.3,643.9 736.8,641.8 738.3,639.0 739.8,637.1 741.3,634.8 742.8,633.7 744.3,632.1 745.8,631.5 747.3,629.9 748.8,630.1 750.3,630.7 751.8,633.1 753.3,635.6 754.8,638.9 756.3,641.6 757.8,644.5 759.3,645.8 760.8,648.3 762.3,650.0 763.8,652.2 765.3,653.7 766.8,655.8 768.3,657.0 769.8,659.0 771.3,659.6 772.8,661.6 774.3,662.6 775.8,664.4 777.3,665.1 778.8,666.7 780.3,666.7 781.8,667.6 783.3,667.3 784.8,667.7 786.3,667.3 787.8,667.9 789.3,667.1 790.8,667.7 792.3,667.4 793.8,667.2 795.3,665.2 796.8,663.4 798.3,660.1 799.8,658.2 801.3,654.6 802.8,651.1 804.3,646.8 805.8,643.4 807.3,640.1 808.8,638.3 810.3,635.6 811.8,634.4 813.3,632.2 814.8,631.1 816.3,630.0 817.8,630.2 819.3,630.1 820.8,630.6 822.3,630.7 823.8,631.3 825.3,630.8 826.8,630.7 828.3,628.2 829.8,626.6 831.3,624.7 832.8,624.8 834.3,625.2 835.8,627.8 837.3,629.5 838.8,632.8 840.3,636.8 841.8,642.6 843.3,646.7 844.8,649.0 846.3,650.4 847.8,652.0 849.3,652.3 850.8,652.7 852.3,650.9 853.8,649.6 855.3,647.0 856.8,644.7 858.3,642.0 859.8,640.3 861.3,638.5 862.8,637.3 864.3,635.4 865.8,635.0 867.3,633.0 868.8,631.9 870.3,630.0 871.8,628.6 873.3,626.0 874.8,623.6 876.4,620.2 877.9,617.2 879.4,612.8 880.9,609.4 882.4,605.2 883.9,601.4 885.4,596.5 886.9,592.0 888.4,586.7 889.9,582.3 891.4,577.5 892.9,574.5 894.4,570.4 895.9,567.3 897.4,563.7 898.9,561.1 900.4,558.3 901.9,557.1 903.4,555.3 904.9,555.1 906.4,554.0 907.9,553.6 909.4,552.8 910.9,553.0 912.4,552.1 913.9,552.8 915.4,552.9 916.9,553.7 918.4,553.9 919.9,554.7 921.4,554.8 922.9,555.4 924.4,554.5 925.9,554.7 927.4,553.8 928.9,553.6 930.4,552.5 931.9,552.1 933.4,550.9 934.9,550.2 936.4,548.6 937.9,547.1 939.4,543.9 940.9,541.8 942.4,539.1 943.9,537.5 945.4,535.8 946.9,535.1 948.4,533.9 949.9,533.9 951.4,533.7 952.9,535.5 954.4,536.5 955.9,538.5 957.4,539.8 958.9,541.8 960.4,542.7 961.9,543.9 963.4,544.3 964.9,545.9 966.4,546.2 967.9,547.4 969.4,547.9 970.9,548.8 972.4,549.4 973.9,550.5 975.4,551.0 976.9,552.5 978.4,552.7 979.9,554.3 981.4,555.0 982.9,556.5 984.4,557.4 985.9,559.0 987.4,559.6 988.9,561.5 990.4,562.1 991.9,563.5 993.4,564.2 994.9,565.6 996.4,566.2 997.9,567.7 999.4,568.3 1000.9,569.6 1002.4,569.6 1003.9,570.7 1005.4,571.1 1006.9,572.0 1008.4,572.2 1009.9,572.6 1011.4,572.2 1012.9,571.6 1014.4,570.1 1015.9,569.7 1017.4,567.9 1018.9,567.1 1020.4,565.8 1021.9,565.3 1023.4,564.1 1024.9,563.6 1026.4,562.1 1027.9,562.1 1029.4,560.8 1030.9,560.3 1032.4,559.4 1033.9,559.2 1035.4,558.5 1036.9,558.7 1038.4,557.6 1039.9,558.0 1041.4,557.3 1042.9,557.4 1044.4,556.9 1045.9,557.0 1047.4,556.5 1048.9,556.6 1050.4,556.0 1051.9,556.4 1053.4,555.4 1054.9,555.7 1056.4,555.4 1057.9,555.4 1059.4,554.9 1060.9,555.1 1062.4,554.6 1063.9,554.6 1065.4,554.1 1066.9,554.2 1068.4,553.1 1069.9,552.8 1071.4,551.5 1072.9,550.6 1074.4,549.0 1075.9,548.1 1077.4,546.5 1079.0,545.8 1080.5,544.5 1082.0,544.3 1083.5,542.8 1085.0,542.6 1086.5,541.6 1088.0,541.3 1089.5,540.4 1091.0,540.2 1092.5,539.3 1094.0,539.4 1095.5,538.3 1097.0,538.5 1098.5,537.9 1100.0,537.9 1101.5,537.3 1103.0,537.6 1104.5,536.6 1106.0,537.0 1107.5,536.4 1109.0,536.6 1110.5,536.1 1112.0,536.3 1113.5,535.7 1115.0,535.9 1116.5,535.1 1118.0,535.6 1119.5,534.9 1121.0,535.0 1122.5,534.5 1124.0,534.6 1125.5,534.0 1127.0,534.2 1128.5,533.5 1130.0,533.7 1131.5,532.9 1133.0,533.5 1134.5,532.8 1136.0,532.9 1137.5,532.3 1139.0,532.4 1140.5,531.9 1142.0,532.0 1143.5,531.4 1145.0,531.9 1146.5,531.3 1148.0,531.3 1149.5,530.8 1151.0,531.1 1152.5,530.6 1154.0,530.8 1155.5,530.3 1157.0,530.4 1158.5,529.8 1160.0,530.4 1161.5,529.8 1163.0,529.9 1164.5,529.6 1166.0,529.8 1167.5,529.1 1169.0,529.7 1170.5,529.0 1172.0,529.2 1173.5,528.8 1175.0,529.0 1176.5,528.5 1178.0,528.9 1179.5,528.4"/>
<path class="c" clip-path="url(#clipR)" stroke="#0068b0" d="M1196.0,528.5 1197.5,529.2 1199.0,529.5 1200.5,530.4 1202.0,530.5 1203.5,531.5 1205.0,531.9 1206.5,532.8 1208.0,533.2 1209.5,534.1 1211.0,534.3 1212.5,535.3 1214.0,535.6 1215.5,536.5 1217.0,536.4 1218.5,537.3 1220.0,537.4 1221.5,537.9 1223.0,538.0 1224.5,538.5 1226.0,538.3 1227.5,539.1 1229.0,538.9 1230.5,539.4 1232.0,539.4 1233.5,539.9 1235.0,539.9 1236.5,540.4 1238.0,540.6 1239.5,541.3 1241.0,541.0 1242.5,541.8 1244.0,542.0 1245.5,542.6 1247.0,542.9 1248.5,543.6 1250.0,543.8 1251.5,544.7 1253.0,545.2 1254.5,546.3 1256.0,546.6 1257.5,548.3 1259.0,549.6 1260.5,551.7 1262.0,553.4 1263.5,555.7 1265.0,557.4 1266.5,559.7 1268.0,561.1 1269.5,563.5 1271.0,565.5 1272.5,568.0 1274.0,570.4 1275.5,574.2 1277.0,577.8 1278.5,580.0 1280.0,579.8 1281.5,579.9 1283.0,579.0 1284.5,579.0 1286.0,578.7 1287.5,581.1 1289.0,587.3 1290.5,595.1 1292.0,604.4 1293.5,613.5 1295.0,615.4 1296.5,616.8 1298.0,616.8 1299.5,616.8 1301.0,615.9 1302.5,615.1 1304.0,613.5 1305.5,611.7 1307.0,604.6 1308.5,594.7 1310.0,576.6 1311.5,557.8 1313.0,545.2 1314.5,541.5 1316.0,539.7 1317.5,539.3 1319.0,538.5 1320.5,539.6 1322.0,541.0 1323.5,543.3 1325.0,544.9 1326.5,547.0 1328.0,548.6 1329.5,550.8 1331.0,552.6 1332.5,555.3 1334.0,557.1 1335.5,559.7 1337.0,561.7 1338.5,564.2 1340.0,566.2 1341.5,568.8 1343.0,570.7 1344.5,573.7 1346.0,575.7 1347.5,578.4 1349.0,580.7 1350.5,583.5 1352.0,585.8 1353.5,588.8 1355.0,591.2 1356.5,594.3 1358.0,596.6 1359.5,599.9 1361.0,602.3 1362.5,605.1 1364.0,607.6 1365.5,610.4 1367.0,613.0 1368.5,616.0 1370.0,618.0 1371.5,620.9 1373.0,623.1 1374.5,625.6 1376.0,627.5 1377.5,629.9 1379.0,631.6 1380.5,634.0 1382.0,635.3 1383.5,637.5 1385.0,638.9 1386.5,640.6 1388.0,641.5 1389.5,643.0 1391.0,643.9 1392.5,645.6 1394.0,646.3 1395.5,647.4 1397.0,648.0 1398.5,648.7 1400.0,648.6 1401.5,648.9 1403.0,648.2 1404.5,648.3 1406.0,647.6 1407.5,647.2 1409.0,646.4 1410.5,646.0 1412.0,645.1 1413.5,644.6 1415.0,643.3 1416.5,642.5 1418.0,640.5 1419.5,639.3 1421.0,637.4 1422.5,635.8 1424.0,633.7 1425.5,632.0 1427.0,629.6 1428.5,627.3 1430.0,624.6 1431.5,622.2 1433.0,618.7 1434.5,616.1 1436.0,612.9 1437.5,610.1 1439.0,606.9 1440.5,603.9 1442.0,600.3 1443.5,597.6 1445.0,593.9 1446.5,590.7 1448.0,587.0 1449.5,583.8 1451.0,580.1 1452.5,576.8 1454.0,573.0 1455.5,569.6 1457.0,565.6 1458.5,562.5 1460.0,558.4 1461.5,555.0 1463.0,551.1 1464.5,547.8 1466.0,543.9 1467.5,540.7 1469.0,536.4 1470.5,533.2 1472.0,529.4 1473.5,526.1 1475.0,522.4 1476.5,519.2 1478.0,515.4 1479.5,512.1 1481.0,508.4 1482.5,505.4 1484.0,501.6 1485.5,498.9 1487.0,495.8 1488.5,493.3 1490.0,490.6 1491.5,488.4 1493.0,485.8 1494.5,483.7 1496.0,481.2 1497.5,479.7 1499.0,477.3 1500.5,475.7 1502.0,473.8 1503.5,472.2 1505.0,470.2 1506.5,469.0 1508.0,467.2 1509.5,466.2 1511.0,464.4 1512.5,463.9 1514.0,462.8 1515.5,462.1 1517.0,461.0 1518.5,460.5 1520.0,459.6 1521.5,459.4 1523.0,458.2 1524.5,458.3 1526.0,457.4 1527.5,457.8 1529.0,457.0 1530.5,457.5 1532.0,456.7 1533.5,457.7 1535.0,456.0 1536.5,457.0 1538.0,456.2 1539.5,457.0 1541.0,456.0 1542.5,456.9 1544.0,456.1 1545.5,456.7 1547.0,455.4 1548.5,457.1 1550.0,455.7 1551.5,456.6 1553.0,455.7 1554.5,456.7 1556.0,456.0 1557.5,456.8 1559.0,455.8 1560.5,456.6 1562.0,455.3 1563.5,457.2 1565.0,455.8 1566.5,456.5 1568.0,455.9 1569.5,456.4 1571.0,455.9 1572.5,456.5 1574.0,455.8 1575.5,457.1 1577.0,455.4 1578.5,456.5 1580.0,455.7 1581.5,456.6 1583.0,456.0 1584.5,456.7 1586.0,455.4 1587.5,457.1 1589.0,456.0 1590.5,456.7 1592.0,455.8 1593.5,456.6 1595.0,455.8 1596.5,456.5 1598.0,455.8 1599.5,456.8 1601.0,455.5 1602.5,456.4 1604.0,455.9 1605.5,456.1 1607.0,455.7 1608.5,456.1 1610.0,455.6 1611.5,456.1 1613.0,455.7 1614.5,455.9 1616.0,455.7 1617.5,455.8 1619.0,455.6 1620.5,455.8 1622.0,455.4 1623.5,455.8 1625.0,455.5 1626.5,455.6 1628.0,455.4 1629.5,455.6 1631.0,455.4 1632.5,455.5 1634.0,455.4"/>
<path class="c" clip-path="url(#clipL)" stroke="#0000ff" d="M168.0,706.5 169.5,707.8 171.0,706.0 172.5,707.7 174.0,705.2 175.5,709.3 177.0,707.0 178.5,709.6 180.0,708.5 181.5,710.3 183.0,707.5 184.5,708.6 186.0,702.5 187.5,703.0 189.0,698.5 190.5,697.6 192.0,691.9 193.5,689.6 195.0,684.9 196.5,684.1 198.0,676.7 199.5,676.1 201.0,672.5 202.5,673.6 204.0,672.3 205.5,675.1 207.0,674.0 208.5,676.8 210.0,674.6 211.5,679.0 213.0,676.2 214.5,677.8 216.0,675.0 217.5,676.7 219.0,673.3 220.5,676.4 222.0,672.9 223.5,674.9 225.0,672.5 226.5,674.4 228.0,671.9 229.5,674.1 231.0,672.0 232.5,673.3 234.0,670.3 235.5,674.0 237.0,670.7 238.5,672.4 240.0,670.5 241.5,671.8 243.0,670.4 244.5,671.2 246.0,669.2 247.5,670.0 249.0,667.0 250.5,670.3 252.0,666.7 253.5,664.7 255.0,658.4 256.5,659.2 258.0,657.4 259.5,659.5 261.0,658.7 262.5,661.0 264.0,658.4 265.5,661.2 267.0,660.3 268.5,661.9 270.1,660.9 271.6,662.0 273.1,660.7 274.6,661.3 276.1,659.5 277.6,661.0 279.1,659.0 280.6,659.1 282.1,657.4 283.6,657.5 285.1,655.8 286.6,655.1 288.1,652.2 289.6,650.1 291.1,647.5 292.6,647.8 294.1,646.5 295.6,646.5 297.1,645.4 298.6,645.6 300.1,644.9 301.6,645.0 303.1,644.3 304.6,644.7 306.1,643.2 307.6,643.6 309.1,642.7 310.6,642.7 312.1,641.3 313.6,640.8 315.1,639.3 316.6,638.6 318.1,636.9 319.6,636.5 321.1,634.4 322.6,634.5 324.1,633.6 325.6,633.6 327.1,632.7 328.6,632.9 330.1,632.1 331.6,632.2 333.1,631.2 334.6,632.1 336.1,631.1 337.6,631.1 339.1,630.3 340.6,630.4 342.1,629.7 343.6,629.7 345.1,628.9 346.6,629.1 348.1,627.9 349.6,628.6 351.1,627.5 352.6,627.6 354.1,626.5 355.6,626.3 357.1,624.8 358.6,624.9 360.1,622.7 361.6,621.6 363.1,619.4 364.6,618.1 366.1,615.8 367.6,614.6 369.1,611.5 370.6,609.2 372.1,605.8 373.6,604.4 375.1,601.6 376.6,601.2 378.1,600.5 379.6,601.3 381.1,601.2 382.6,601.9 384.1,601.7 385.6,603.0 387.1,602.1 388.6,603.1 390.1,602.7 391.6,603.1 393.1,602.4 394.6,602.6 396.1,601.4 397.6,602.3 399.1,601.1 400.6,601.0 402.1,600.1 403.6,600.2 405.1,599.4 406.6,599.6 408.1,598.7 409.6,599.4 411.1,598.1 412.6,598.9 414.1,598.1 415.6,598.5 417.1,597.9 418.6,598.6 420.1,597.4 421.6,598.2 423.1,597.6 424.6,597.9 426.1,597.5 427.6,598.0 429.1,597.6 430.6,598.1 432.1,597.5 433.6,599.0 435.1,598.7 436.6,600.0 438.1,600.4 439.6,601.4 441.1,601.7 442.6,603.0 444.1,603.4 445.6,604.3 447.1,604.1 448.6,605.4 450.1,604.9 451.6,605.1 453.1,604.2 454.6,603.7 456.1,602.3 457.6,601.8 459.1,599.6 460.6,599.3 462.1,596.9 463.6,595.8 465.1,593.2 466.6,591.0 468.1,587.6 469.6,584.8 471.1,581.3 472.7,579.2 474.2,575.6 475.7,573.6 477.2,570.1 478.7,567.7 480.2,564.7 481.7,563.6 483.2,561.9 484.7,562.6 486.2,562.9 487.7,564.8 489.2,565.1 490.7,567.5 492.2,568.8 493.7,570.9 495.2,571.8 496.7,573.1 498.2,573.4 499.7,575.1 501.2,574.6 502.7,576.2 504.2,576.4 505.7,577.6 507.2,577.6 508.7,578.8 510.2,578.1 511.7,579.0 513.2,578.7 514.7,578.9 516.2,577.9 517.7,577.9 519.2,575.9 520.7,575.6 522.2,574.0 523.7,573.7 525.2,572.2 526.7,571.5 528.2,570.0 529.7,569.3 531.2,567.6 532.7,567.5 534.2,565.7 535.7,566.6 537.2,566.7 538.7,568.1 540.2,568.9 541.7,570.7 543.2,571.4 544.7,572.9 546.2,572.4 547.7,573.5 549.2,573.7 550.7,574.5 552.2,574.2 553.7,575.0 555.2,574.7 556.7,575.4 558.2,571.2 559.7,567.1 561.2,561.9 562.7,560.1 564.2,559.0 565.7,559.5 567.2,558.2 568.7,560.8 570.2,565.6 571.7,571.9 573.2,575.0 574.7,578.5 576.2,580.2 577.7,581.6 579.2,579.0 580.7,577.4 582.2,574.9 583.7,576.0 585.2,578.0 586.7,581.7 588.2,584.1 589.7,586.4 591.2,587.1 592.7,589.6 594.2,589.7 595.7,589.9 597.2,588.3 598.7,586.7 600.2,584.3 601.7,583.1 603.2,581.8 604.7,582.6 606.2,581.6 607.7,581.9 609.2,581.3 610.7,581.7 612.2,581.2 613.7,581.6 615.2,580.7 616.7,581.6 618.2,580.9 619.7,581.1 621.2,580.5 622.7,580.8 624.2,579.8 625.7,579.9 627.2,578.2 628.7,576.9 630.2,573.4 631.7,571.7 633.2,568.3 634.7,565.5 636.2,561.1 637.7,557.3 639.2,552.2 640.7,549.4 642.2,545.3 643.7,542.8 645.2,539.3 646.7,537.0 648.2,534.6 649.7,534.1 651.2,533.6 652.7,536.2 654.2,537.3 655.7,539.4 657.2,539.8 658.7,540.1 660.2,538.5 661.7,538.5 663.2,536.0 664.7,534.6 666.2,531.8 667.7,529.7 669.2,523.2 670.7,516.0 672.2,510.1 673.8,509.2 675.3,507.5 676.8,508.1 678.3,508.1 679.8,513.2 681.3,518.8 682.8,523.1 684.3,524.8 685.8,527.4 687.3,528.4 688.8,530.3 690.3,529.5 691.8,530.2 693.3,529.6 694.8,529.8 696.3,529.2 697.8,529.5 699.3,528.7 700.8,528.7 702.3,528.1 703.8,528.4 705.3,526.9 706.8,527.1 708.3,526.0 709.8,525.5 711.3,524.2 712.8,523.4 714.3,521.9 715.8,521.5 717.3,519.1 718.8,518.7 720.3,517.0 721.8,516.2 723.3,514.6 724.8,513.8 726.3,511.7 727.8,511.2 729.3,508.7 730.8,508.0 732.3,506.4 733.8,505.5 735.3,503.7 736.8,503.2 738.3,501.5 739.8,501.6 741.3,499.6 742.8,499.3 744.3,498.1 745.8,498.1 747.3,497.4 748.8,498.3 750.3,498.1 751.8,500.2 753.3,501.2 754.8,503.1 756.3,504.0 757.8,505.5 759.3,505.6 760.8,506.8 762.3,507.1 763.8,508.8 765.3,508.2 766.8,509.7 768.3,509.7 769.8,510.8 771.3,510.7 772.8,511.3 774.3,510.6 775.8,511.8 777.3,510.8 778.8,511.1 780.3,510.3 781.8,510.3 783.3,508.9 784.8,509.3 786.3,508.0 787.8,507.7 789.3,506.5 790.8,506.1 792.3,504.9 793.8,504.4 795.3,502.8 796.8,502.2 798.3,499.4 799.8,498.5 801.3,496.4 802.8,495.2 804.3,493.3 805.8,492.8 807.3,490.8 808.8,490.9 810.3,489.7 811.8,489.8 813.3,488.7 814.8,488.9 816.3,488.0 817.8,488.3 819.3,486.8 820.8,487.2 822.3,486.1 823.8,486.0 825.3,484.6 826.8,484.5 828.3,482.5 829.8,482.5 831.3,481.5 832.8,481.6 834.3,481.0 835.8,482.1 837.3,482.7 838.8,484.8 840.3,485.1 841.8,487.1 843.3,487.8 844.8,488.9 846.3,488.8 847.8,489.5 849.3,489.4 850.8,490.1 852.3,489.1 853.8,490.8 855.3,489.7 856.8,489.9 858.3,487.3 859.8,486.4 861.3,483.2 862.8,482.5 864.3,479.1 865.8,478.7 867.3,474.4 868.8,476.1 870.3,471.3 871.8,471.5 873.3,468.2 874.8,468.5 876.4,464.6 877.9,465.8 879.4,458.4 880.9,460.1 882.4,456.6 883.9,457.1 885.4,454.1 886.9,454.1 888.4,448.9 889.9,453.8 891.4,447.2 892.9,449.7 894.4,445.3 895.9,447.6 897.4,445.3 898.9,450.0 900.4,442.4 901.9,447.5 903.4,445.5 904.9,448.9 906.4,445.8 907.9,449.3 909.4,443.8 910.9,451.1 912.4,446.4 913.9,450.5 915.4,448.2 916.9,451.1 918.4,449.1 919.9,453.3 921.4,447.5 922.9,455.2 924.4,449.1 925.9,452.1 927.4,448.4 928.9,449.1 930.4,445.5 931.9,448.1 933.4,442.9 934.9,447.6 936.4,438.9 937.9,442.1 939.4,436.5 940.9,437.6 942.4,433.0 943.9,433.8 945.4,430.1 946.9,430.8 948.4,425.5 949.9,432.9 951.4,426.8 952.9,432.1 954.4,430.5 955.9,434.4 957.4,433.4 958.9,440.1 960.4,433.8 961.9,439.7 963.4,438.1 964.9,442.0 966.4,440.0 967.9,444.2 969.4,442.4 970.9,446.6 972.4,444.0 973.9,449.4 975.4,442.3 976.9,448.8 978.4,445.0 979.9,449.8 981.4,446.0 982.9,449.5 984.4,448.1 985.9,451.4 987.4,448.1 988.9,454.8 990.4,447.4 991.9,454.4 993.4,451.1 994.9,456.5 996.4,454.6 997.9,460.6 999.4,453.5 1000.9,459.2 1002.4,457.4 1003.9,460.6 1005.4,458.1 1006.9,461.4 1008.4,457.5 1009.9,461.6 1011.4,458.6 1012.9,463.2 1014.4,454.7 1015.9,460.0 1017.4,456.0 1018.9,458.3 1020.4,454.3 1021.9,456.6 1023.4,450.9 1024.9,458.8 1026.4,452.5 1027.9,456.3 1029.4,453.1 1030.9,454.8 1032.4,452.6 1033.9,455.3 1035.4,452.9 1036.9,456.2 1038.4,449.9 1039.9,457.7 1041.4,453.2 1042.9,456.1 1044.4,453.4 1045.9,456.2 1047.4,452.8 1048.9,457.1 1050.4,453.2 1051.9,456.5 1053.4,450.9 1054.9,458.0 1056.4,452.7 1057.9,454.8 1059.4,450.2 1060.9,452.1 1062.4,446.6 1063.9,452.9 1065.4,447.0 1066.9,448.2 1068.4,444.3 1069.9,444.9 1071.4,441.2 1072.9,441.7 1074.4,438.3 1075.9,438.9 1077.4,435.9 1079.0,438.6 1080.5,436.3 1082.0,436.5 1083.5,435.6 1085.0,435.9 1086.5,434.9 1088.0,436.4 1089.5,433.4 1091.0,435.3 1092.5,433.7 1094.0,434.9 1095.5,433.4 1097.0,434.7 1098.5,433.0 1100.0,434.1 1101.5,432.9 1103.0,434.3 1104.5,431.7 1106.0,433.5 1107.5,432.2 1109.0,433.3 1110.5,432.0 1112.0,432.7 1113.5,431.7 1115.0,432.7 1116.5,431.4 1118.0,432.9 1119.5,430.4 1121.0,431.9 1122.5,431.0 1124.0,431.7 1125.5,430.2 1127.0,431.3 1128.5,430.1 1130.0,430.8 1131.5,429.1 1133.0,431.2 1134.5,429.3 1136.0,430.1 1137.5,429.4 1139.0,430.1 1140.5,428.2 1142.0,430.2 1143.5,428.7 1145.0,429.4 1146.5,428.3 1148.0,429.0 1149.5,428.3 1151.0,428.8 1152.5,428.2 1154.0,429.4 1155.5,427.2 1157.0,428.7 1158.5,427.5 1160.0,428.3 1161.5,427.8 1163.0,428.4 1164.5,426.9 1166.0,429.0 1167.5,427.2 1169.0,428.2 1170.5,427.1 1172.0,428.2 1173.5,427.2 1175.0,428.0 1176.5,427.0 1178.0,427.9 1179.5,427.3"/>
<path class="c" clip-path="url(#clipR)" stroke="#0000ff" d="M1196.0,415.5 1197.5,415.9 1199.0,416.0 1200.5,416.5 1202.0,416.4 1203.5,417.2 1205.0,417.1 1206.5,417.7 1208.0,417.8 1209.5,418.4 1211.0,418.4 1212.5,418.9 1214.0,419.0 1215.5,419.7 1217.0,419.4 1218.5,419.9 1220.0,419.9 1221.5,420.2 1223.0,420.1 1224.5,420.4 1226.0,420.3 1227.5,420.7 1229.0,420.4 1230.5,421.0 1232.0,420.4 1233.5,420.8 1235.0,420.7 1236.5,420.9 1238.0,420.8 1239.5,421.1 1241.0,420.9 1242.5,421.2 1244.0,421.0 1245.5,421.5 1247.0,421.0 1248.5,421.5 1250.0,421.3 1251.5,421.7 1253.0,421.6 1254.5,422.3 1256.0,421.9 1257.5,422.8 1259.0,423.2 1260.5,424.3 1262.0,425.1 1263.5,426.7 1265.0,427.2 1266.5,428.8 1268.0,429.6 1269.5,431.0 1271.0,431.9 1272.5,433.5 1274.0,434.7 1275.5,436.4 1277.0,436.7 1278.5,437.6 1280.0,437.3 1281.5,437.7 1283.0,437.3 1284.5,437.8 1286.0,437.2 1287.5,439.2 1289.0,443.5 1290.5,448.6 1292.0,451.0 1293.5,453.6 1295.0,454.9 1296.5,455.6 1298.0,455.3 1299.5,455.4 1301.0,454.3 1302.5,454.1 1304.0,453.0 1305.5,452.0 1307.0,446.4 1308.5,439.0 1310.0,427.4 1311.5,419.9 1313.0,417.0 1314.5,415.8 1316.0,414.9 1317.5,415.1 1319.0,414.9 1320.5,415.4 1322.0,415.3 1323.5,416.0 1325.0,416.0 1326.5,417.3 1328.0,418.0 1329.5,419.4 1331.0,420.5 1332.5,422.0 1334.0,423.1 1335.5,424.9 1337.0,425.6 1338.5,427.2 1340.0,428.0 1341.5,429.4 1343.0,430.4 1344.5,431.8 1346.0,432.7 1347.5,434.3 1349.0,435.1 1350.5,436.9 1352.0,437.5 1353.5,439.2 1355.0,440.2 1356.5,441.8 1358.0,442.8 1359.5,444.6 1361.0,445.3 1362.5,447.3 1364.0,448.4 1365.5,450.1 1367.0,451.3 1368.5,452.9 1370.0,454.0 1371.5,455.9 1373.0,456.6 1374.5,458.5 1376.0,459.5 1377.5,461.1 1379.0,462.3 1380.5,463.9 1382.0,465.1 1383.5,466.4 1385.0,467.2 1386.5,468.6 1388.0,468.6 1389.5,469.7 1391.0,469.9 1392.5,470.7 1394.0,470.9 1395.5,471.5 1397.0,471.7 1398.5,472.0 1400.0,471.7 1401.5,472.3 1403.0,471.7 1404.5,471.8 1406.0,471.3 1407.5,471.3 1409.0,470.7 1410.5,470.7 1412.0,469.8 1413.5,470.1 1415.0,469.1 1416.5,468.7 1418.0,467.6 1419.5,467.0 1421.0,465.8 1422.5,465.3 1424.0,463.5 1425.5,462.9 1427.0,461.5 1428.5,460.7 1430.0,459.0 1431.5,457.9 1433.0,456.1 1434.5,454.7 1436.0,452.8 1437.5,451.5 1439.0,449.0 1440.5,447.7 1442.0,445.4 1443.5,443.9 1445.0,441.6 1446.5,439.7 1448.0,437.1 1449.5,435.1 1451.0,432.3 1452.5,430.6 1454.0,427.8 1455.5,425.7 1457.0,423.1 1458.5,421.1 1460.0,418.6 1461.5,416.6 1463.0,413.7 1464.5,412.1 1466.0,409.4 1467.5,407.3 1469.0,404.8 1470.5,403.0 1472.0,400.6 1473.5,398.7 1475.0,396.2 1476.5,395.0 1478.0,392.4 1479.5,390.8 1481.0,388.7 1482.5,387.1 1484.0,385.0 1485.5,383.5 1487.0,381.7 1488.5,380.3 1490.0,378.3 1491.5,377.6 1493.0,375.5 1494.5,374.5 1496.0,372.9 1497.5,372.1 1499.0,370.2 1500.5,370.6 1502.0,367.4 1503.5,368.0 1505.0,365.9 1506.5,366.6 1508.0,364.5 1509.5,364.7 1511.0,361.1 1512.5,365.2 1514.0,360.9 1515.5,362.8 1517.0,360.2 1518.5,362.1 1520.0,359.7 1521.5,361.3 1523.0,359.4 1524.5,362.6 1526.0,357.5 1527.5,360.4 1529.0,358.1 1530.5,361.0 1532.0,358.4 1533.5,361.1 1535.0,357.0 1536.5,362.4 1538.0,358.2 1539.5,360.4 1541.0,359.0 1542.5,360.8 1544.0,358.8 1545.5,361.0 1547.0,359.0 1548.5,360.8 1550.0,357.4 1551.5,362.6 1553.0,358.8 1554.5,361.5 1556.0,358.8 1557.5,360.7 1559.0,358.6 1560.5,361.6 1562.0,358.5 1563.5,362.8 1565.0,357.1 1566.5,360.9 1568.0,359.1 1569.5,360.9 1571.0,358.8 1572.5,362.3 1574.0,356.8 1575.5,361.4 1577.0,358.0 1578.5,361.2 1580.0,358.9 1581.5,361.0 1583.0,358.4 1584.5,362.2 1586.0,356.8 1587.5,361.1 1589.0,358.2 1590.5,360.2 1592.0,358.4 1593.5,361.8 1595.0,357.0 1596.5,359.7 1598.0,358.0 1599.5,359.8 1601.0,358.3 1602.5,359.4 1604.0,358.2 1605.5,359.4 1607.0,358.6 1608.5,359.7 1610.0,357.8 1611.5,359.1 1613.0,358.1 1614.5,358.9 1616.0,358.3 1617.5,358.9 1619.0,358.2 1620.5,358.7 1622.0,358.0 1623.5,358.7 1625.0,357.7 1626.5,358.3 1628.0,358.0 1629.5,358.2 1631.0,357.8 1632.5,358.1 1634.0,357.9"/>
<path class="c" clip-path="url(#clipL)" stroke="#000000" d="M168.0,623.2 169.5,623.9 171.0,621.3 172.5,623.0 174.0,621.0 175.5,622.0 177.0,618.5 178.5,620.1 180.0,613.7 181.5,611.9 183.0,608.2 184.5,608.6 186.0,606.6 187.5,608.1 189.0,606.1 190.5,607.7 192.0,601.0 193.5,594.4 195.0,589.6 196.5,590.3 198.0,588.4 199.5,589.3 201.0,587.9 202.5,590.3 204.0,590.4 205.5,594.9 207.0,592.9 208.5,596.7 210.0,596.3 211.5,598.7 213.0,597.8 214.5,599.8 216.0,599.0 217.5,601.1 219.0,599.9 220.5,602.3 222.0,597.9 223.5,599.1 225.0,596.0 226.5,595.6 228.0,593.0 229.5,594.6 231.0,593.1 232.5,594.7 234.0,592.9 235.5,597.3 237.0,595.0 238.5,596.7 240.0,595.9 241.5,597.7 243.0,594.3 244.5,597.4 246.0,593.2 247.5,593.3 249.0,590.3 250.5,590.4 252.0,585.2 253.5,583.1 255.0,579.2 256.5,582.9 258.0,581.1 259.5,583.3 261.0,582.6 262.5,584.0 264.0,583.3 265.5,584.7 267.0,583.4 268.5,585.1 270.1,582.5 271.6,584.1 273.1,582.9 274.6,583.4 276.1,582.1 277.6,582.5 279.1,580.2 280.6,580.8 282.1,578.2 283.6,577.8 285.1,575.7 286.6,574.5 288.1,571.4 289.6,570.8 291.1,569.0 292.6,569.0 294.1,568.2 295.6,568.4 297.1,567.6 298.6,567.8 300.1,567.1 301.6,567.4 303.1,566.4 304.6,567.3 306.1,566.0 307.6,566.0 309.1,564.9 310.6,564.7 312.1,563.2 313.6,562.8 315.1,561.5 316.6,561.5 318.1,559.5 319.6,559.6 321.1,558.7 322.6,558.6 324.1,557.7 325.6,557.7 327.1,556.7 328.6,556.5 330.1,555.3 331.6,556.1 333.1,555.1 334.6,555.3 336.1,554.7 337.6,555.1 339.1,554.6 340.6,555.2 342.1,554.9 343.6,555.9 345.1,554.9 346.6,555.9 348.1,555.6 349.6,556.1 351.1,555.3 352.6,555.1 354.1,552.0 355.6,550.7 357.1,547.9 358.6,546.4 360.1,544.1 361.6,542.3 363.1,539.4 364.6,538.3 366.1,535.4 367.6,533.7 369.1,531.3 370.6,529.7 372.1,526.8 373.6,525.3 375.1,523.3 376.6,523.2 378.1,522.0 379.6,523.3 381.1,523.6 382.6,525.3 384.1,525.9 385.6,527.3 387.1,527.8 388.6,528.7 390.1,528.1 391.6,529.3 393.1,528.4 394.6,529.0 396.1,528.4 397.6,528.8 399.1,528.3 400.6,528.9 402.1,527.7 403.6,528.3 405.1,527.8 406.6,528.1 408.1,527.6 409.6,528.4 411.1,527.1 412.6,527.7 414.1,527.1 415.6,527.2 417.1,526.5 418.6,526.7 420.1,526.1 421.6,526.4 423.1,525.3 424.6,526.2 426.1,525.5 427.6,525.7 429.1,525.3 430.6,526.1 432.1,525.8 433.6,526.5 435.1,526.3 436.6,527.0 438.1,526.5 439.6,527.9 441.1,527.5 442.6,528.2 444.1,528.0 445.6,528.7 447.1,528.2 448.6,529.2 450.1,528.2 451.6,528.7 453.1,527.0 454.6,526.1 456.1,523.6 457.6,522.3 459.1,519.0 460.6,517.5 462.1,514.9 463.6,512.6 465.1,509.4 466.6,507.0 468.1,503.4 469.6,502.0 471.1,498.3 472.7,495.6 474.2,492.2 475.7,490.3 477.2,488.2 478.7,488.2 480.2,488.2 481.7,489.7 483.2,489.8 484.7,492.1 486.2,492.9 487.7,494.9 489.2,495.7 490.7,497.2 492.2,497.4 493.7,499.7 495.2,500.1 496.7,501.7 498.2,502.2 499.7,503.3 501.2,503.0 502.7,504.3 504.2,503.3 505.7,503.8 507.2,503.2 508.7,503.5 510.2,502.6 511.7,503.6 513.2,502.6 514.7,502.7 516.2,501.9 517.7,501.3 519.2,498.8 520.7,498.0 522.2,495.3 523.7,494.0 525.2,492.1 526.7,491.3 528.2,489.3 529.7,488.4 531.2,486.8 532.7,487.0 534.2,485.7 535.7,487.4 537.2,488.5 538.7,490.9 540.2,492.3 541.7,494.6 543.2,494.4 544.7,495.3 546.2,494.7 547.7,494.8 549.2,494.1 550.7,494.1 552.2,493.0 553.7,492.8 555.2,490.3 556.7,488.1 558.2,483.4 559.7,479.8 561.2,476.0 562.7,474.0 564.2,471.3 565.7,470.7 567.2,470.4 568.7,475.4 570.2,480.9 571.7,487.0 573.2,494.1 574.7,500.1 576.2,498.7 577.7,496.0 579.2,491.0 580.7,489.3 582.2,489.2 583.7,492.3 585.2,495.5 586.7,499.2 588.2,500.4 589.7,502.5 591.2,502.4 592.7,503.9 594.2,503.5 595.7,501.9 597.2,497.8 598.7,495.1 600.2,491.8 601.7,491.4 603.2,489.7 604.7,489.4 606.2,487.9 607.7,487.6 609.2,486.4 610.7,486.6 612.2,484.6 613.7,484.4 615.2,483.3 616.7,483.0 618.2,481.8 619.7,481.5 621.2,480.3 622.7,479.7 624.2,477.7 625.7,477.3 627.2,474.2 628.7,471.6 630.2,467.9 631.7,464.6 633.2,460.5 634.7,456.7 636.2,450.7 637.7,446.5 639.2,440.9 640.7,436.7 642.2,432.0 643.7,428.1 645.2,423.7 646.7,421.5 648.2,418.9 649.7,418.6 651.2,417.6 652.7,418.0 654.2,426.8 655.7,438.2 657.2,438.1 658.7,438.4 660.2,437.0 661.7,436.0 663.2,434.1 664.7,431.8 666.2,425.2 667.7,420.0 669.2,416.9 670.7,416.2 672.2,414.0 673.8,414.1 675.3,413.5 676.8,416.2 678.3,420.5 679.8,426.1 681.3,429.8 682.8,433.8 684.3,436.5 685.8,440.4 687.3,441.0 688.8,441.3 690.3,440.5 691.8,440.4 693.3,438.9 694.8,439.1 696.3,437.4 697.8,436.7 699.3,435.2 700.8,434.7 702.3,433.1 703.8,432.4 705.3,430.5 706.8,429.5 708.3,427.1 709.8,426.5 711.3,424.0 712.8,422.4 714.3,419.3 715.8,417.0 717.3,413.1 718.8,410.0 720.3,406.0 721.8,403.0 723.3,398.2 724.8,395.7 726.3,392.0 727.8,389.5 729.3,386.2 730.8,383.6 732.3,380.2 733.8,377.8 735.3,373.9 736.8,371.4 738.3,366.7 739.8,363.2 741.3,359.7 742.8,358.1 744.3,357.0 745.8,358.0 747.3,357.3 748.8,357.6 750.3,357.5 751.8,363.3 753.3,371.6 754.8,379.9 756.3,382.9 757.8,387.4 759.3,390.0 760.8,392.9 762.3,394.6 763.8,396.8 765.3,397.9 766.8,400.0 768.3,400.9 769.8,402.9 771.3,402.6 772.8,404.0 774.3,403.5 775.8,403.7 777.3,402.4 778.8,401.7 780.3,399.6 781.8,399.3 783.3,396.9 784.8,395.7 786.3,393.6 787.8,392.5 789.3,390.3 790.8,388.7 792.3,385.8 793.8,384.7 795.3,381.7 796.8,379.9 798.3,377.1 799.8,375.4 801.3,372.8 802.8,371.2 804.3,368.5 805.8,367.0 807.3,363.8 808.8,362.7 810.3,360.4 811.8,359.4 813.3,358.0 814.8,357.4 816.3,356.1 817.8,355.9 819.3,353.8 820.8,353.7 822.3,352.5 823.8,352.3 825.3,351.2 826.8,351.1 828.3,350.2 829.8,350.6 831.3,349.8 832.8,350.6 834.3,349.8 835.8,351.4 837.3,351.8 838.8,353.4 840.3,354.0 841.8,355.8 843.3,355.2 844.8,356.6 846.3,353.7 847.8,357.3 849.3,351.8 850.8,353.4 852.3,348.2 853.8,349.2 855.3,344.0 856.8,344.4 858.3,340.0 859.8,341.0 861.3,335.9 862.8,339.5 864.3,332.8 865.8,334.2 867.3,330.5 868.8,331.9 870.3,323.9 871.8,331.8 873.3,324.4 874.8,327.0 876.4,322.1 877.9,325.1 879.4,320.5 880.9,328.3 882.4,314.8 883.9,323.5 885.4,316.2 886.9,321.7 888.4,316.8 889.9,323.3 891.4,314.0 892.9,320.3 894.4,316.9 895.9,319.7 897.4,318.0 898.9,320.5 900.4,316.4 901.9,322.9 903.4,313.6 904.9,320.6 906.4,317.5 907.9,326.7 909.4,324.0 910.9,332.2 912.4,324.3 913.9,338.4 915.4,329.8 916.9,337.1 918.4,334.2 919.9,338.7 921.4,334.1 922.9,338.1 924.4,331.6 925.9,334.1 927.4,324.5 928.9,332.3 930.4,322.6 931.9,322.4 933.4,316.7 934.9,314.6 936.4,304.5 937.9,307.4 939.4,297.0 940.9,297.1 942.4,289.7 943.9,289.3 945.4,282.9 946.9,283.4 948.4,281.0 949.9,284.6 951.4,279.3 952.9,287.5 954.4,285.9 955.9,294.3 957.4,296.9 958.9,303.4 960.4,303.2 961.9,311.0 963.4,309.8 964.9,314.7 966.4,315.2 967.9,318.1 969.4,318.6 970.9,321.5 972.4,321.2 973.9,323.6 975.4,322.1 976.9,326.5 978.4,324.8 979.9,327.3 981.4,325.9 982.9,329.8 984.4,326.1 985.9,330.6 987.4,329.3 988.9,334.9 990.4,327.8 991.9,340.8 993.4,333.4 994.9,338.6 996.4,334.7 997.9,341.5 999.4,333.7 1000.9,340.4 1002.4,334.6 1003.9,340.8 1005.4,327.3 1006.9,347.1 1008.4,333.7 1009.9,340.4 1011.4,332.4 1012.9,339.4 1014.4,331.4 1015.9,336.4 1017.4,327.8 1018.9,339.2 1020.4,330.4 1021.9,333.5 1023.4,329.4 1024.9,334.7 1026.4,321.6 1027.9,341.0 1029.4,324.7 1030.9,332.1 1032.4,326.0 1033.9,331.1 1035.4,322.0 1036.9,332.8 1038.4,323.3 1039.9,333.1 1041.4,315.9 1042.9,335.8 1044.4,322.9 1045.9,330.0 1047.4,321.0 1048.9,326.5 1050.4,318.9 1051.9,328.5 1053.4,321.0 1054.9,324.5 1056.4,314.7 1057.9,329.3 1059.4,319.5 1060.9,324.0 1062.4,317.2 1063.9,324.3 1065.4,313.9 1066.9,327.8 1068.4,316.6 1069.9,321.0 1071.4,316.7 1072.9,320.9 1074.4,315.4 1075.9,317.8 1077.4,313.7 1079.0,319.9 1080.5,310.8 1082.0,316.8 1083.5,312.9 1085.0,315.6 1086.5,312.7 1088.0,315.7 1089.5,311.5 1091.0,314.9 1092.5,310.9 1094.0,316.8 1095.5,308.6 1097.0,314.6 1098.5,309.7 1100.0,312.6 1101.5,309.4 1103.0,313.0 1104.5,306.8 1106.0,313.7 1107.5,309.0 1109.0,310.8 1110.5,308.0 1112.0,310.0 1113.5,307.3 1115.0,309.6 1116.5,305.7 1118.0,310.7 1119.5,306.8 1121.0,308.5 1122.5,305.8 1124.0,308.3 1125.5,305.7 1127.0,307.9 1128.5,305.1 1130.0,309.5 1131.5,301.7 1133.0,307.6 1134.5,303.0 1136.0,307.5 1137.5,304.1 1139.0,306.7 1140.5,302.8 1142.0,308.0 1143.5,300.4 1145.0,305.5 1146.5,301.6 1148.0,303.9 1149.5,302.0 1151.0,303.4 1152.5,301.0 1154.0,302.6 1155.5,299.8 1157.0,303.2 1158.5,300.3 1160.0,301.7 1161.5,299.6 1163.0,300.6 1164.5,299.3 1166.0,299.9 1167.5,298.6 1169.0,299.7 1170.5,297.2 1172.0,299.6 1173.5,297.3 1175.0,298.2 1176.5,296.6 1178.0,297.7 1179.5,296.6"/>
<path class="c" clip-path="url(#clipR)" stroke="#000000" d="M1196.0,257.1 1197.5,257.4 1199.0,257.2 1200.5,257.6 1202.0,257.6 1203.5,258.2 1205.0,257.8 1206.5,258.4 1208.0,258.4 1209.5,258.7 1211.0,258.7 1212.5,259.1 1214.0,258.9 1215.5,259.6 1217.0,259.3 1218.5,259.6 1220.0,259.4 1221.5,259.6 1223.0,259.3 1224.5,259.3 1226.0,258.9 1227.5,259.1 1229.0,258.4 1230.5,258.6 1232.0,258.1 1233.5,258.1 1235.0,257.7 1236.5,257.8 1238.0,257.4 1239.5,257.6 1241.0,257.2 1242.5,257.8 1244.0,257.4 1245.5,257.6 1247.0,257.5 1248.5,257.7 1250.0,257.6 1251.5,257.8 1253.0,257.6 1254.5,258.0 1256.0,257.6 1257.5,258.3 1259.0,258.1 1260.5,258.9 1262.0,259.4 1263.5,260.6 1265.0,261.4 1266.5,262.7 1268.0,263.4 1269.5,265.0 1271.0,265.6 1272.5,267.0 1274.0,268.1 1275.5,269.4 1277.0,269.9 1278.5,270.1 1280.0,269.6 1281.5,269.6 1283.0,268.9 1284.5,269.1 1286.0,268.7 1287.5,270.3 1289.0,274.2 1290.5,278.7 1292.0,281.0 1293.5,283.2 1295.0,283.5 1296.5,283.6 1298.0,282.5 1299.5,281.4 1301.0,279.4 1302.5,277.6 1304.0,273.8 1305.5,268.4 1307.0,260.3 1308.5,248.6 1310.0,239.9 1311.5,237.2 1313.0,234.7 1314.5,234.0 1316.0,233.7 1317.5,234.1 1319.0,234.2 1320.5,234.9 1322.0,234.8 1323.5,236.0 1325.0,236.5 1326.5,237.8 1328.0,238.6 1329.5,240.0 1331.0,241.0 1332.5,242.6 1334.0,243.3 1335.5,244.9 1337.0,245.7 1338.5,247.1 1340.0,247.9 1341.5,249.4 1343.0,249.9 1344.5,251.4 1346.0,252.2 1347.5,253.6 1349.0,254.5 1350.5,256.1 1352.0,256.6 1353.5,258.2 1355.0,259.2 1356.5,260.5 1358.0,261.5 1359.5,263.1 1361.0,264.1 1362.5,265.8 1364.0,266.9 1365.5,268.7 1367.0,269.6 1368.5,271.3 1370.0,272.4 1371.5,273.9 1373.0,274.8 1374.5,276.1 1376.0,276.8 1377.5,277.9 1379.0,278.4 1380.5,279.8 1382.0,280.2 1383.5,280.9 1385.0,281.1 1386.5,281.7 1388.0,281.7 1389.5,282.3 1391.0,282.0 1392.5,282.6 1394.0,282.4 1395.5,282.5 1397.0,282.2 1398.5,282.1 1400.0,281.1 1401.5,281.0 1403.0,279.8 1404.5,279.3 1406.0,278.2 1407.5,277.7 1409.0,276.3 1410.5,275.9 1412.0,274.5 1413.5,273.6 1415.0,272.0 1416.5,271.0 1418.0,269.2 1419.5,268.3 1421.0,266.5 1422.5,265.1 1424.0,263.2 1425.5,261.8 1427.0,259.7 1428.5,258.1 1430.0,255.9 1431.5,254.0 1433.0,251.5 1434.5,249.8 1436.0,247.2 1437.5,245.1 1439.0,242.5 1440.5,240.2 1442.0,237.3 1443.5,234.9 1445.0,231.9 1446.5,229.2 1448.0,226.0 1449.5,223.7 1451.0,220.5 1452.5,217.8 1454.0,214.6 1455.5,211.9 1457.0,208.5 1458.5,205.8 1460.0,202.4 1461.5,199.8 1463.0,196.2 1464.5,193.6 1466.0,190.2 1467.5,187.5 1469.0,184.1 1470.5,181.3 1472.0,178.1 1473.5,175.5 1475.0,172.4 1476.5,170.0 1478.0,166.7 1479.5,164.4 1481.0,161.3 1482.5,159.1 1484.0,156.1 1485.5,154.7 1487.0,151.6 1488.5,151.2 1490.0,145.2 1491.5,149.5 1493.0,142.6 1494.5,144.1 1496.0,140.1 1497.5,142.6 1499.0,136.5 1500.5,142.2 1502.0,130.2 1503.5,137.9 1505.0,131.7 1506.5,135.0 1508.0,128.5 1509.5,134.5 1511.0,126.1 1512.5,132.1 1514.0,117.5 1515.5,138.0 1517.0,124.3 1518.5,132.0 1520.0,123.6 1521.5,129.2 1523.0,121.0 1524.5,131.9 1526.0,120.8 1527.5,130.2 1529.0,116.2 1530.5,134.6 1532.0,121.0 1533.5,128.5 1535.0,120.9 1536.5,129.3 1538.0,119.6 1539.5,126.7 1541.0,112.7 1542.5,133.9 1544.0,120.4 1545.5,127.6 1547.0,119.9 1548.5,130.2 1550.0,112.0 1551.5,133.9 1553.0,117.4 1554.5,129.7 1556.0,121.6 1557.5,126.6 1559.0,121.0 1560.5,128.4 1562.0,114.7 1563.5,132.0 1565.0,120.0 1566.5,126.3 1568.0,121.8 1569.5,128.1 1571.0,119.6 1572.5,129.5 1574.0,117.6 1575.5,128.5 1577.0,112.5 1578.5,135.4 1580.0,116.2 1581.5,129.7 1583.0,120.9 1584.5,127.2 1586.0,112.2 1587.5,132.7 1589.0,118.7 1590.5,126.1 1592.0,118.8 1593.5,124.8 1595.0,118.7 1596.5,123.2 1598.0,118.9 1599.5,125.5 1601.0,117.8 1602.5,122.4 1604.0,119.1 1605.5,121.0 1607.0,119.6 1608.5,121.6 1610.0,118.6 1611.5,119.8 1613.0,119.0 1614.5,119.3 1616.0,118.7 1617.5,119.3 1619.0,117.9 1620.5,118.6 1622.0,117.8 1623.5,118.0 1625.0,117.5 1626.5,117.7 1628.0,117.1 1629.5,117.2 1631.0,116.7 1632.5,116.9 1634.0,116.4"/>
<clipPath id="clipTop"><rect x="0" y="22.8" width="1724" height="1405"/></clipPath>
<g stroke="#000" stroke-width="10.3" fill="none" clip-path="url(#clipTop)">
<path d="M1188.7,17.6 L1162.7,62.7"/>
<path d="M1188.7,1190.3 L1162.7,1235.4"/>
<path d="M1213.8,17.6 L1187.8,62.7"/>
<path d="M1213.8,1190.3 L1187.8,1235.4"/>
</g>
<text class="tick" x="239.8" y="1289.5">500</text>
<text class="tick" x="407.1" y="1289.5">750</text>
<text class="tick" x="574.3" y="1289.5">1000</text>
<text class="tick" x="741.6" y="1289.5">1250</text>
<text class="tick" x="908.9" y="1289.5">1500</text>
<text class="tick" x="1076.2" y="1289.5">1750</text>
<text class="tick" x="1323.8" y="1289.5">3000</text>
<text class="tick" x="1476.5" y="1289.5">3500</text>
<text class="tick" x="1628.5" y="1289.5">4000</text>
<text class="axt" x="901" y="1390">Wavenumber (cm<tspan font-size="40" dy="-26">-1</tspan><tspan dy="26">)</tspan></text>
<text class="ayt" transform="translate(80.5,590) rotate(-90)">Transmittance (arb. units)</text>
<path d="M229,107 H328" stroke="#000000" stroke-width="9.6" stroke-linecap="round" fill="none"/>
<text class="leg" x="342" y="121.5">PP-20</text>
<path d="M229,162 H328" stroke="#0000ff" stroke-width="9.6" stroke-linecap="round" fill="none"/>
<text class="leg" x="342" y="176.5">PP-12</text>
<path d="M229,217.5 H328" stroke="#0068b0" stroke-width="9.6" stroke-linecap="round" fill="none"/>
<text class="leg" x="342" y="232.0">PP-3</text>
<path d="M229,272.5 H328" stroke="#00ffff" stroke-width="9.6" stroke-linecap="round" fill="none"/>
<text class="leg" x="342" y="287.0">PP-0</text>
<path d="M229,328 H328" stroke="#d0d0d0" stroke-width="9.6" stroke-linecap="round" fill="none"/>
<text class="leg" x="342" y="342.5">PVA</text>
<text class="ann" x="870.0" y="260.1" style="fill:#000"><tspan class="nu" dy="1">ν</tspan><tspan dx="3" dy="-1">(C=C)</tspan></text>
<text class="ann" x="476.2" y="409.8" style="fill:#000"><tspan class="nu" dy="1">ν</tspan><tspan dx="3" dy="-1">(C-C)</tspan></text>
<text class="ann" x="384.2" y="468.3" style="fill:#000"><tspan class="nu" dy="1">ν</tspan><tspan dx="3" dy="-1">(C-S)</tspan></text>
<text class="ann" x="392.1" y="1058.9" style="fill:#d0d0d0"><tspan class="nu" dy="1">ν</tspan><tspan dx="3" dy="-1">(C-C)</tspan></text>
<text class="ann" x="567.3" y="1105.2" style="fill:#d0d0d0"><tspan class="nu" dy="1">ν</tspan><tspan dx="3" dy="-1">(C-O)</tspan></text>
<text class="ann" x="784.8" y="1029.8" style="fill:#d0d0d0"><tspan class="nu" dy="0">δ</tspan><tspan dx="-2.5" dy="0">(CH)</tspan></text>
<text class="ann" x="976.5" y="1020.0" style="fill:#d0d0d0"><tspan class="nu" dy="1">ν</tspan><tspan dx="3" dy="-1">(C=O)</tspan></text>
<text class="ann" x="1225.0" y="979.1" style="fill:#d0d0d0"><tspan class="nu" dy="1">ν</tspan><tspan dx="3" dy="-1">(CH)</tspan></text>
<text class="ann" x="1409.0" y="1005.2" style="fill:#d0d0d0"><tspan class="nu" dy="1">ν</tspan><tspan dx="3" dy="-1">(OH)</tspan></text>
<text class="star" x="509.9" y="555.1" style="fill:#000">*</text>
<text class="star" x="567.9" y="553.0" style="fill:#000">*</text>
<text class="star" x="925.1" y="392.0" style="fill:#000">*</text>
<text class="star" x="1005.0" y="404.0" style="fill:#000">*</text>
<text class="star" x="505.1" y="634.9" style="fill:#0000ff">*</text>
<text class="star" x="562.0" y="633.1" style="fill:#0000ff">*</text>
<text class="star" x="927.0" y="499.9" style="fill:#0000ff">*</text>
<text class="star" x="1007.1" y="511.1" style="fill:#0000ff">*</text>
<text class="star" x="510.2" y="767.1" style="fill:#008080">*</text>
<text class="star" x="558.0" y="767.1" style="fill:#008080">*</text>
<text class="star" x="929.0" y="612.1" style="fill:#008080">*</text>
<text class="star" x="1009.0" y="624.0" style="fill:#008080">*</text>
</svg>
</body>
</html>
